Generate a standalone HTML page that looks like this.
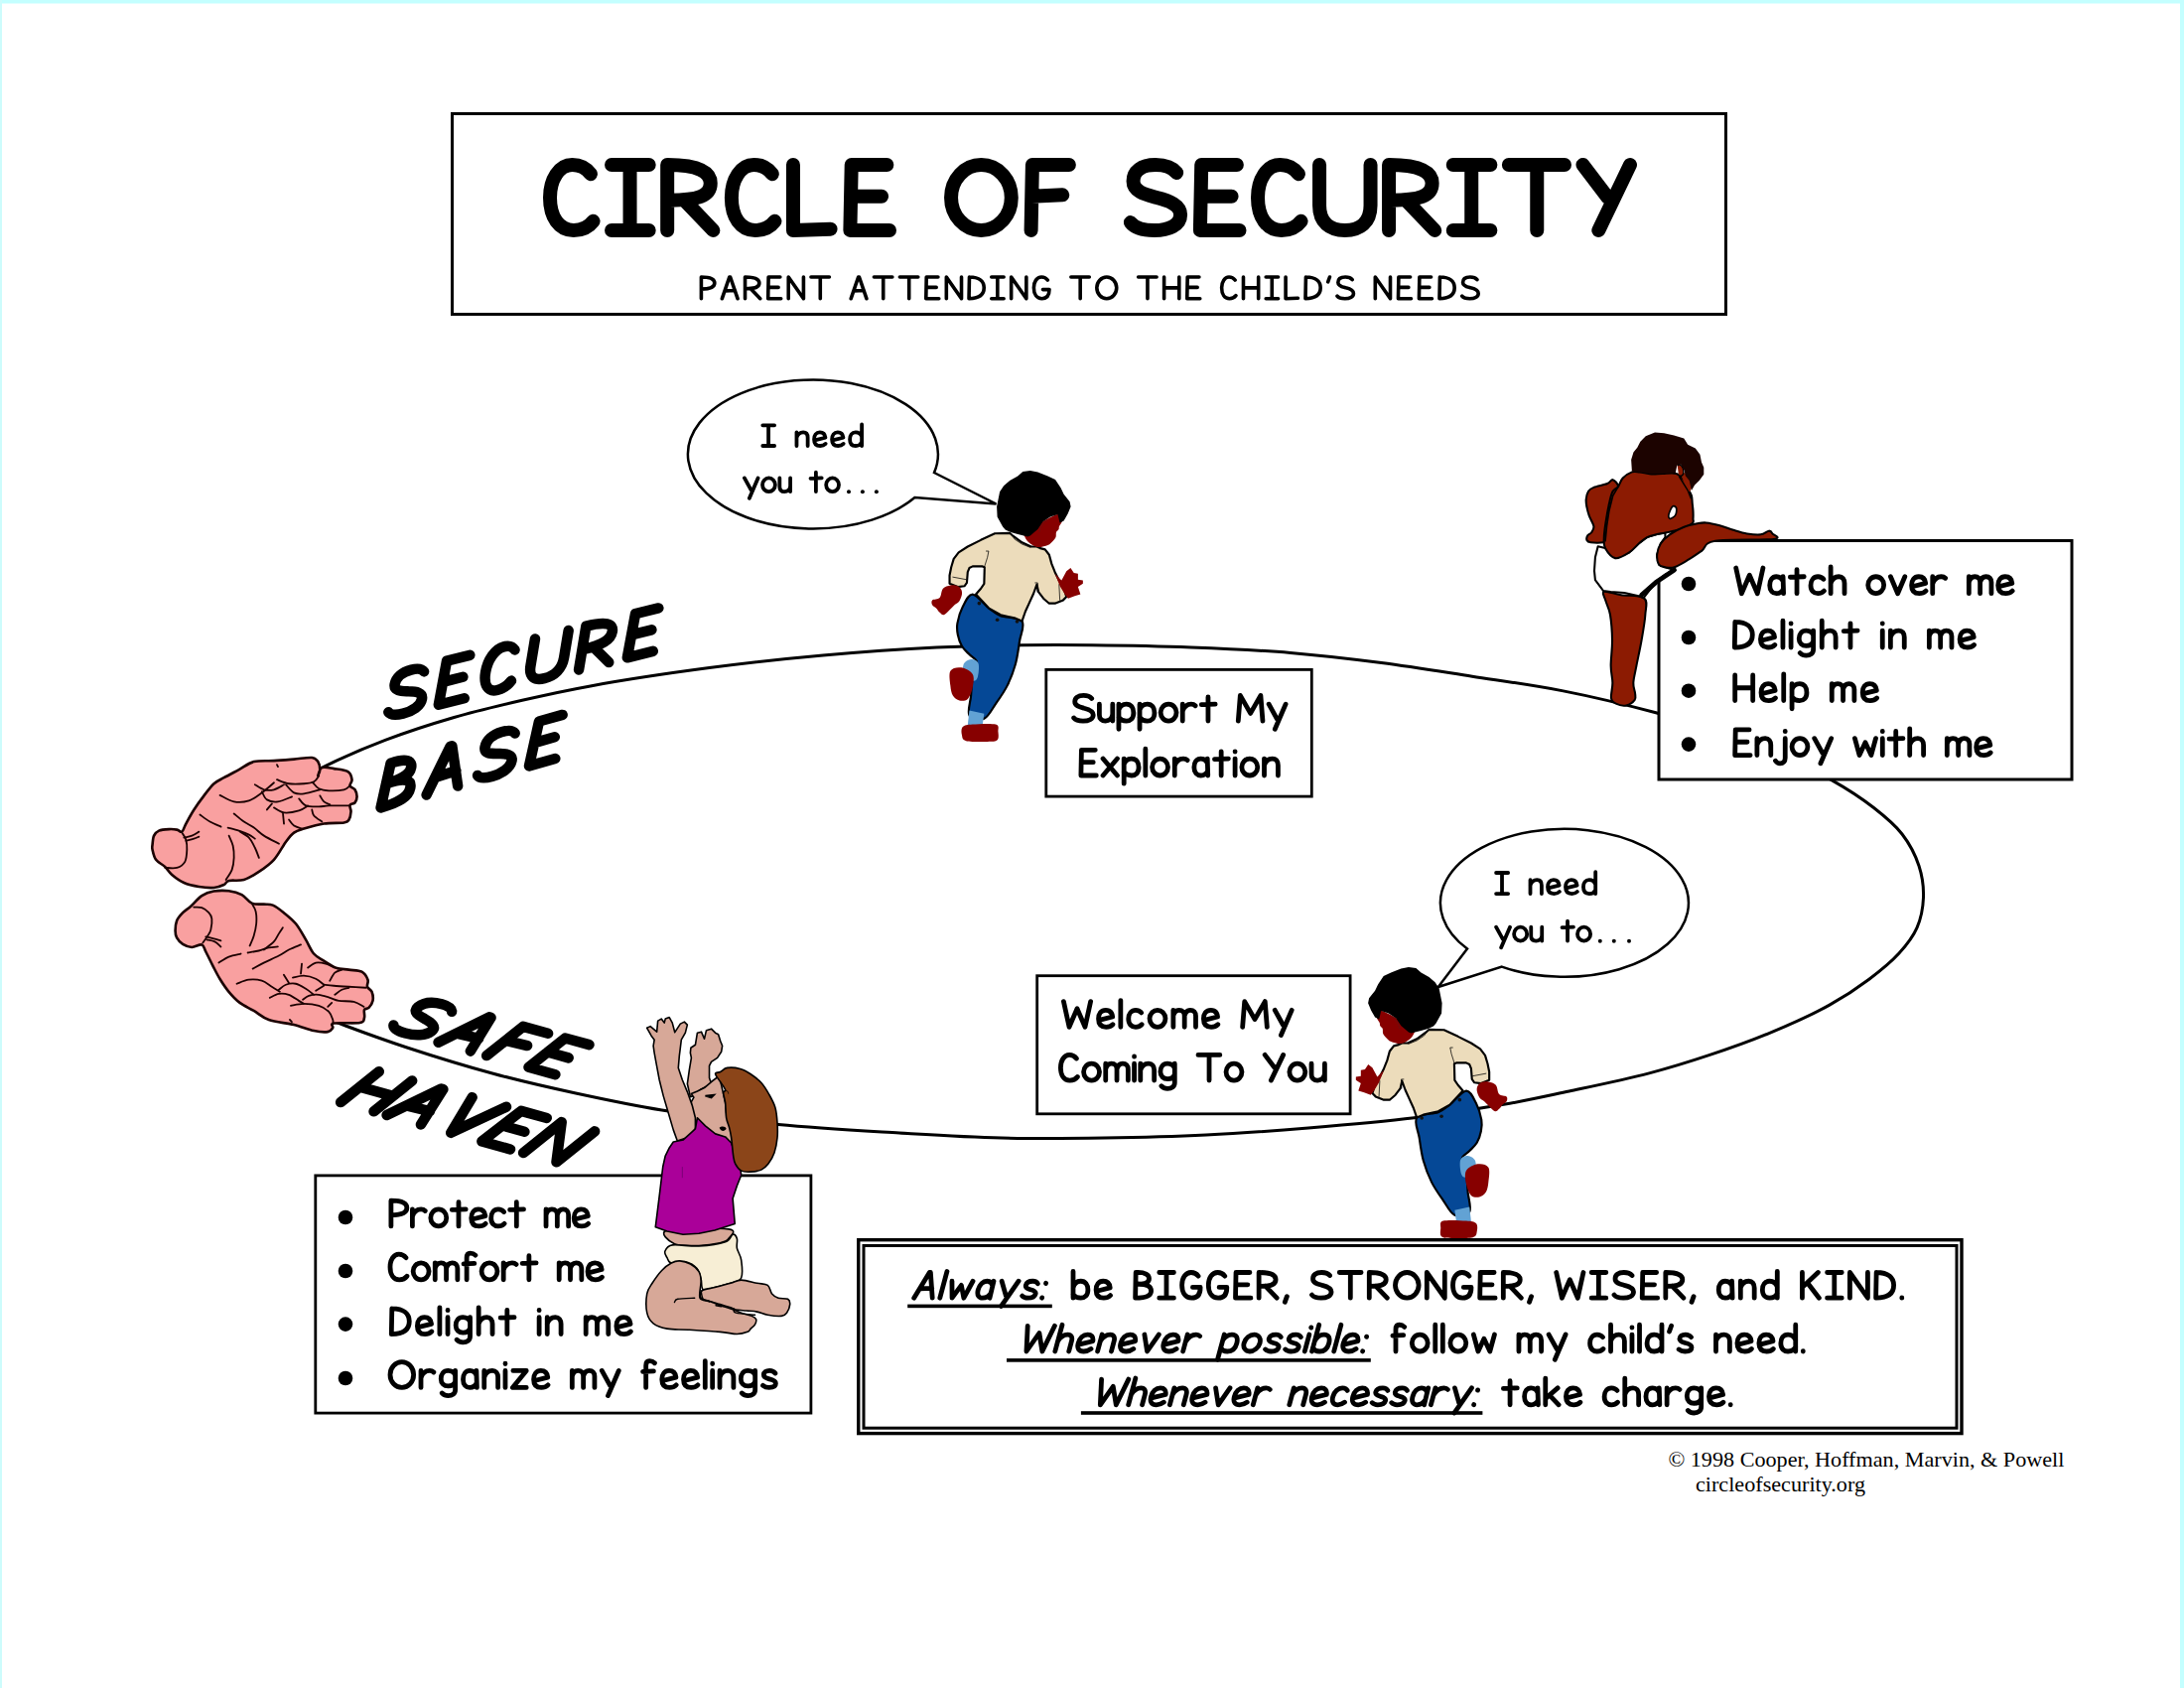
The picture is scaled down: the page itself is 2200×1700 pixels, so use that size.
<!DOCTYPE html>
<html><head><meta charset="utf-8"><title>Circle of Security</title>
<style>
html,body{margin:0;padding:0;background:#fff;}
body{width:2200px;height:1700px;overflow:hidden;position:relative;}
svg{position:absolute;left:0;top:0;display:block;}
text{font-family:"Liberation Sans",sans-serif;}
.b{font-weight:bold;}
</style></head><body>
<svg width="2200" height="1700" viewBox="0 0 2200 1700" xmlns="http://www.w3.org/2000/svg">
<rect x="0" y="0" width="2200" height="1700" fill="#fff"/>
<!-- cyan frame -->
<rect x="0" y="0" width="2200" height="3.5" fill="#c4ffff"/>
<rect x="0" y="0" width="2" height="1700" fill="#cdfcfc"/>
<rect x="2196" y="0" width="4" height="1700" fill="#c4ffff"/>

<!-- title box -->
<rect x="455.5" y="114.5" width="1283" height="202" fill="none" stroke="#000" stroke-width="3"/>

<!-- main loop -->
<path id="loop" fill="none" stroke="#000" stroke-width="3" d="M 330.0 1026.0 C 336.0 1028.3 340.2 1030.1 348.0 1033.0 C 362.4 1038.4 387.6 1047.6 410.0 1055.0 C 436.2 1063.6 467.4 1073.3 496.0 1081.0 C 524.1 1088.6 551.7 1094.9 580.0 1101.0 C 608.6 1107.2 635.5 1113.0 666.7 1118.0 C 702.8 1123.8 744.5 1128.8 784.0 1132.6 C 824.2 1136.5 867.0 1138.7 906.0 1141.0 C 941.8 1143.1 974.7 1145.2 1009.0 1146.0 C 1043.3 1146.8 1077.7 1146.5 1112.0 1146.0 C 1146.3 1145.5 1180.7 1144.7 1215.0 1143.0 C 1249.3 1141.3 1283.4 1138.8 1318.0 1136.0 C 1353.2 1133.1 1390.5 1130.0 1424.6 1125.8 C 1456.3 1121.9 1488.3 1117.0 1516.1 1112.1 C 1539.5 1108.0 1557.9 1103.8 1580.6 1099.0 C 1606.0 1093.6 1636.4 1087.4 1661.2 1080.9 C 1682.9 1075.2 1701.6 1069.4 1721.6 1062.7 C 1741.8 1056.0 1762.0 1048.9 1782.0 1040.6 C 1802.3 1032.2 1824.7 1022.3 1842.5 1012.4 C 1857.6 1004.0 1870.6 995.4 1882.8 986.2 C 1893.9 977.8 1904.7 969.2 1913.0 960.0 C 1920.4 951.8 1926.9 943.7 1931.0 934.3 C 1935.1 925.0 1937.1 914.3 1937.5 904.0 C 1937.9 893.5 1936.4 882.4 1933.0 872.0 C 1929.4 861.0 1923.4 849.6 1916.0 840.0 C 1908.3 830.0 1898.1 821.8 1887.2 813.3 C 1874.8 803.6 1861.9 795.1 1845.0 785.6 C 1821.9 772.6 1789.4 756.3 1760.0 745.0 C 1730.4 733.6 1698.9 726.0 1668.0 717.8 C 1637.1 709.6 1605.8 702.0 1574.7 695.9 C 1544.1 689.9 1513.6 685.9 1483.0 681.2 C 1452.5 676.5 1422.1 671.5 1391.6 667.5 C 1361.1 663.5 1331.2 660.0 1300.0 657.4 C 1267.4 654.7 1233.3 653.3 1200.0 652.0 C 1166.7 650.7 1130.6 650.1 1100.0 649.8 C 1074.0 649.5 1053.0 649.5 1028.0 649.8 C 1000.9 650.2 973.7 650.5 943.4 652.0 C 908.1 653.7 867.1 656.6 829.0 660.0 C 790.8 663.4 753.0 667.5 714.5 672.6 C 675.0 677.8 629.0 684.7 594.7 690.9 C 568.6 695.6 548.8 700.0 526.0 705.3 C 503.1 710.6 480.2 715.9 457.4 722.5 C 434.4 729.2 410.7 736.8 388.7 745.2 C 367.7 753.2 341.6 764.7 328.0 771.3 C 320.8 774.8 317.3 777.1 312.0 780.0"/>

<!-- FIGURES -->
<g transform="translate(930 480) scale(0.08292)"><path d="M 600.0 1430.0 C 653.3 1433.3 743.3 1556.7 800.0 1600.0 C 856.7 1643.3 873.3 1664.0 940.0 1690.0 C 1006.7 1716.0 1161.7 1704.3 1200.0 1756.0 C 1238.3 1807.7 1183.3 1912.7 1170.0 2000.0 C 1156.7 2087.3 1145.0 2190.0 1120.0 2280.0 C 1095.0 2370.0 1060.0 2460.0 1020.0 2540.0 C 980.0 2620.0 926.7 2693.3 880.0 2760.0 C 833.3 2826.7 793.3 2916.7 740.0 2940.0 C 686.7 2963.3 586.7 2946.7 560.0 2900.0 C 533.3 2853.3 573.3 2740.0 580.0 2660.0 C 586.7 2580.0 588.3 2488.3 600.0 2420.0 C 611.7 2351.7 656.7 2293.3 650.0 2250.0 C 643.3 2206.7 590.0 2191.7 560.0 2160.0 C 530.0 2128.3 493.3 2100.0 470.0 2060.0 C 446.7 2020.0 429.2 1966.7 420.0 1920.0 C 410.8 1873.3 405.0 1836.7 415.0 1780.0 C 425.0 1723.3 449.2 1638.3 480.0 1580.0 C 510.8 1521.7 546.7 1426.7 600.0 1430.0 Z" fill="#054896" stroke="#000" stroke-width="26" stroke-linejoin="round"/><path d="M 490.0 2280.0 C 503.3 2250.0 550.0 2221.7 580.0 2220.0 C 610.0 2218.3 656.7 2233.3 670.0 2270.0 C 683.3 2306.7 671.7 2405.0 660.0 2440.0 C 648.3 2475.0 626.7 2486.7 600.0 2480.0 C 573.3 2473.3 518.3 2433.3 500.0 2400.0 C 481.7 2366.7 476.7 2310.0 490.0 2280.0 Z" fill="#62a2d4"/><path d="M 330.0 2360.0 C 351.7 2323.3 415.0 2313.3 460.0 2320.0 C 505.0 2326.7 576.7 2360.0 600.0 2400.0 C 623.3 2440.0 610.0 2510.0 600.0 2560.0 C 590.0 2610.0 566.7 2673.3 540.0 2700.0 C 513.3 2726.7 470.0 2726.7 440.0 2720.0 C 410.0 2713.3 378.3 2690.0 360.0 2660.0 C 341.7 2630.0 335.0 2590.0 330.0 2540.0 C 325.0 2490.0 308.3 2396.7 330.0 2360.0 Z" fill="#870000"/><path d="M 560.0 2840.0 L 740.0 2880.0 L 720.0 3020.0 L 540.0 3020.0 Z" fill="#62a2d4"/><path d="M 480.0 3040.0 C 501.7 3018.3 533.3 3015.0 600.0 3010.0 C 666.7 3005.0 828.3 2995.0 880.0 3010.0 C 931.7 3025.0 906.7 3068.3 910.0 3100.0 C 913.3 3131.7 921.7 3180.0 900.0 3200.0 C 878.3 3220.0 843.3 3218.3 780.0 3220.0 C 716.7 3221.7 571.7 3223.3 520.0 3210.0 C 468.3 3196.7 476.7 3168.3 470.0 3140.0 C 463.3 3111.7 458.3 3061.7 480.0 3040.0 Z" fill="#870000"/><circle cx="680" cy="1540" r="22" fill="#111"/><circle cx="900" cy="1740" r="22" fill="#111"/><circle cx="1140" cy="1760" r="22" fill="#111"/><path d="M 870.0 690.0 L 1050.0 685.0 L 1090.0 720.0 L 1200.0 800.0 L 1310.0 850.0 L 1380.0 850.0 L 1420.0 870.0 L 1480.0 885.0 L 1530.0 950.0 L 1560.0 1060.0 L 1600.0 1160.0 L 1650.0 1260.0 L 1700.0 1330.0 L 1740.0 1460.0 L 1700.0 1500.0 L 1600.0 1540.0 L 1530.0 1540.0 L 1460.0 1480.0 L 1400.0 1400.0 L 1380.0 1310.0 L 1340.0 1420.0 L 1290.0 1530.0 L 1240.0 1640.0 L 1200.0 1756.0 L 1120.0 1720.0 L 940.0 1680.0 L 800.0 1600.0 L 640.0 1430.0 L 700.0 1360.0 L 740.0 1300.0 L 745.0 1100.0 L 720.0 1090.0 L 600.0 1090.0 L 560.0 1110.0 L 540.0 1160.0 L 530.0 1290.0 L 500.0 1330.0 L 420.0 1340.0 L 320.0 1300.0 L 320.0 1200.0 L 340.0 1100.0 L 370.0 1000.0 L 430.0 920.0 L 540.0 850.0 L 700.0 770.0 Z" fill="#ecdcbb" stroke="#000" stroke-width="26" stroke-linejoin="round"/><path d="M 360 1220 L 520 1250" fill="none" stroke="#000" stroke-width="9" stroke-linecap="round"/><path d="M 765 905 L 795 905 L 780 980 L 745 1090" fill="none" stroke="#000" stroke-width="9" stroke-linecap="round"/><path d="M 1360 1290 L 1390 1290 L 1385 1400" fill="none" stroke="#000" stroke-width="9" stroke-linecap="round"/><path d="M 1650 1310 L 1660 1500" fill="none" stroke="#000" stroke-width="9" stroke-linecap="round"/><path d="M 1070 700 L 1110 760 L 1200 820 L 1300 860" fill="none" stroke="#000" stroke-width="9" stroke-linecap="round"/><path d="M 110.0 1500.0 C 125.0 1485.0 178.3 1493.3 200.0 1470.0 C 221.7 1446.7 218.3 1385.0 240.0 1360.0 C 261.7 1335.0 300.0 1325.0 330.0 1320.0 C 360.0 1315.0 398.3 1321.7 420.0 1330.0 C 441.7 1338.3 451.7 1353.3 460.0 1370.0 C 468.3 1386.7 473.3 1406.7 470.0 1430.0 C 466.7 1453.3 455.0 1488.3 440.0 1510.0 C 425.0 1531.7 400.0 1541.7 380.0 1560.0 C 360.0 1578.3 341.7 1600.0 320.0 1620.0 C 298.3 1640.0 270.0 1675.0 250.0 1680.0 C 230.0 1685.0 215.0 1663.3 200.0 1650.0 C 185.0 1636.7 175.0 1615.0 160.0 1600.0 C 145.0 1585.0 118.3 1576.7 110.0 1560.0 C 101.7 1543.3 95.0 1515.0 110.0 1500.0 Z" fill="#870000"/><path d="M 1600.0 1180.0 L 1680.0 1260.0 L 1740.0 1150.0 L 1790.0 1110.0 L 1830.0 1170.0 L 1880.0 1180.0 L 1880.0 1250.0 L 1940.0 1260.0 L 1940.0 1300.0 L 1880.0 1340.0 L 1910.0 1430.0 L 1840.0 1450.0 L 1760.0 1480.0 L 1720.0 1430.0 L 1660.0 1330.0 Z" fill="#870000"/></g><path d="M 1030.0 534.0 C 1032.2 532.0 1040.3 530.2 1045.0 528.0 C 1049.7 525.8 1054.5 522.7 1058.0 521.0 C 1061.5 519.3 1064.0 517.5 1066.0 518.0 C 1068.0 518.5 1069.8 522.0 1070.0 524.0 C 1070.2 526.0 1067.6 528.5 1067.0 530.0 C 1066.4 531.5 1067.0 532.0 1066.5 533.0 C 1066.0 534.0 1064.5 534.7 1064.0 536.0 C 1063.5 537.3 1064.1 539.5 1063.5 541.0 C 1062.9 542.5 1061.8 543.7 1060.5 545.0 C 1059.2 546.3 1058.1 548.0 1055.5 549.0 C 1052.9 550.0 1048.2 551.5 1045.0 551.0 C 1041.8 550.5 1038.2 547.8 1036.0 546.0 C 1033.8 544.2 1033.0 542.0 1032.0 540.0 C 1031.0 538.0 1027.8 536.0 1030.0 534.0 Z" fill="#870000"/><path d="M 1007.1 495.2 L 1011.1 489.2 L 1017.2 484.1 L 1025.2 479.6 L 1030.3 475.1 L 1037.8 474.1 L 1045.4 475.6 L 1055.5 479.6 L 1063.0 483.1 L 1068.5 491.2 L 1071.6 497.7 L 1077.6 505.3 L 1078.6 510.3 L 1075.6 517.4 L 1071.6 524.4 L 1067.5 526.4 L 1065.5 517.9 L 1058.0 520.4 L 1050.4 525.4 L 1045.4 533.0 L 1037.8 539.5 L 1035.3 540.5 L 1025.2 538.0 L 1018.2 536.0 L 1012.7 533.5 L 1010.1 530.5 L 1004.6 520.4 L 1004.1 510.3 Z" fill="#000"/><path d="M 1047 536 C 1048 530 1051 526 1055 524" fill="none" stroke="#6a1010" stroke-width="0.8"/>
<g transform="translate(2456.7 500) scale(-1 1)"><g transform="translate(930 480) scale(0.08292)"><path d="M 600.0 1430.0 C 653.3 1433.3 743.3 1556.7 800.0 1600.0 C 856.7 1643.3 873.3 1664.0 940.0 1690.0 C 1006.7 1716.0 1161.7 1704.3 1200.0 1756.0 C 1238.3 1807.7 1183.3 1912.7 1170.0 2000.0 C 1156.7 2087.3 1145.0 2190.0 1120.0 2280.0 C 1095.0 2370.0 1060.0 2460.0 1020.0 2540.0 C 980.0 2620.0 926.7 2693.3 880.0 2760.0 C 833.3 2826.7 793.3 2916.7 740.0 2940.0 C 686.7 2963.3 586.7 2946.7 560.0 2900.0 C 533.3 2853.3 573.3 2740.0 580.0 2660.0 C 586.7 2580.0 588.3 2488.3 600.0 2420.0 C 611.7 2351.7 656.7 2293.3 650.0 2250.0 C 643.3 2206.7 590.0 2191.7 560.0 2160.0 C 530.0 2128.3 493.3 2100.0 470.0 2060.0 C 446.7 2020.0 429.2 1966.7 420.0 1920.0 C 410.8 1873.3 405.0 1836.7 415.0 1780.0 C 425.0 1723.3 449.2 1638.3 480.0 1580.0 C 510.8 1521.7 546.7 1426.7 600.0 1430.0 Z" fill="#054896" stroke="#000" stroke-width="26" stroke-linejoin="round"/><path d="M 490.0 2280.0 C 503.3 2250.0 550.0 2221.7 580.0 2220.0 C 610.0 2218.3 656.7 2233.3 670.0 2270.0 C 683.3 2306.7 671.7 2405.0 660.0 2440.0 C 648.3 2475.0 626.7 2486.7 600.0 2480.0 C 573.3 2473.3 518.3 2433.3 500.0 2400.0 C 481.7 2366.7 476.7 2310.0 490.0 2280.0 Z" fill="#62a2d4"/><path d="M 330.0 2360.0 C 351.7 2323.3 415.0 2313.3 460.0 2320.0 C 505.0 2326.7 576.7 2360.0 600.0 2400.0 C 623.3 2440.0 610.0 2510.0 600.0 2560.0 C 590.0 2610.0 566.7 2673.3 540.0 2700.0 C 513.3 2726.7 470.0 2726.7 440.0 2720.0 C 410.0 2713.3 378.3 2690.0 360.0 2660.0 C 341.7 2630.0 335.0 2590.0 330.0 2540.0 C 325.0 2490.0 308.3 2396.7 330.0 2360.0 Z" fill="#870000"/><path d="M 560.0 2840.0 L 740.0 2880.0 L 720.0 3020.0 L 540.0 3020.0 Z" fill="#62a2d4"/><path d="M 480.0 3040.0 C 501.7 3018.3 533.3 3015.0 600.0 3010.0 C 666.7 3005.0 828.3 2995.0 880.0 3010.0 C 931.7 3025.0 906.7 3068.3 910.0 3100.0 C 913.3 3131.7 921.7 3180.0 900.0 3200.0 C 878.3 3220.0 843.3 3218.3 780.0 3220.0 C 716.7 3221.7 571.7 3223.3 520.0 3210.0 C 468.3 3196.7 476.7 3168.3 470.0 3140.0 C 463.3 3111.7 458.3 3061.7 480.0 3040.0 Z" fill="#870000"/><circle cx="680" cy="1540" r="22" fill="#111"/><circle cx="900" cy="1740" r="22" fill="#111"/><circle cx="1140" cy="1760" r="22" fill="#111"/><path d="M 870.0 690.0 L 1050.0 685.0 L 1090.0 720.0 L 1200.0 800.0 L 1310.0 850.0 L 1380.0 850.0 L 1420.0 870.0 L 1480.0 885.0 L 1530.0 950.0 L 1560.0 1060.0 L 1600.0 1160.0 L 1650.0 1260.0 L 1700.0 1330.0 L 1740.0 1460.0 L 1700.0 1500.0 L 1600.0 1540.0 L 1530.0 1540.0 L 1460.0 1480.0 L 1400.0 1400.0 L 1380.0 1310.0 L 1340.0 1420.0 L 1290.0 1530.0 L 1240.0 1640.0 L 1200.0 1756.0 L 1120.0 1720.0 L 940.0 1680.0 L 800.0 1600.0 L 640.0 1430.0 L 700.0 1360.0 L 740.0 1300.0 L 745.0 1100.0 L 720.0 1090.0 L 600.0 1090.0 L 560.0 1110.0 L 540.0 1160.0 L 530.0 1290.0 L 500.0 1330.0 L 420.0 1340.0 L 320.0 1300.0 L 320.0 1200.0 L 340.0 1100.0 L 370.0 1000.0 L 430.0 920.0 L 540.0 850.0 L 700.0 770.0 Z" fill="#ecdcbb" stroke="#000" stroke-width="26" stroke-linejoin="round"/><path d="M 360 1220 L 520 1250" fill="none" stroke="#000" stroke-width="9" stroke-linecap="round"/><path d="M 765 905 L 795 905 L 780 980 L 745 1090" fill="none" stroke="#000" stroke-width="9" stroke-linecap="round"/><path d="M 1360 1290 L 1390 1290 L 1385 1400" fill="none" stroke="#000" stroke-width="9" stroke-linecap="round"/><path d="M 1650 1310 L 1660 1500" fill="none" stroke="#000" stroke-width="9" stroke-linecap="round"/><path d="M 1070 700 L 1110 760 L 1200 820 L 1300 860" fill="none" stroke="#000" stroke-width="9" stroke-linecap="round"/><path d="M 110.0 1500.0 C 125.0 1485.0 178.3 1493.3 200.0 1470.0 C 221.7 1446.7 218.3 1385.0 240.0 1360.0 C 261.7 1335.0 300.0 1325.0 330.0 1320.0 C 360.0 1315.0 398.3 1321.7 420.0 1330.0 C 441.7 1338.3 451.7 1353.3 460.0 1370.0 C 468.3 1386.7 473.3 1406.7 470.0 1430.0 C 466.7 1453.3 455.0 1488.3 440.0 1510.0 C 425.0 1531.7 400.0 1541.7 380.0 1560.0 C 360.0 1578.3 341.7 1600.0 320.0 1620.0 C 298.3 1640.0 270.0 1675.0 250.0 1680.0 C 230.0 1685.0 215.0 1663.3 200.0 1650.0 C 185.0 1636.7 175.0 1615.0 160.0 1600.0 C 145.0 1585.0 118.3 1576.7 110.0 1560.0 C 101.7 1543.3 95.0 1515.0 110.0 1500.0 Z" fill="#870000"/><path d="M 1600.0 1180.0 L 1680.0 1260.0 L 1740.0 1150.0 L 1790.0 1110.0 L 1830.0 1170.0 L 1880.0 1180.0 L 1880.0 1250.0 L 1940.0 1260.0 L 1940.0 1300.0 L 1880.0 1340.0 L 1910.0 1430.0 L 1840.0 1450.0 L 1760.0 1480.0 L 1720.0 1430.0 L 1660.0 1330.0 Z" fill="#870000"/></g><path d="M 1030.0 534.0 C 1032.2 532.0 1040.3 530.2 1045.0 528.0 C 1049.7 525.8 1054.5 522.7 1058.0 521.0 C 1061.5 519.3 1064.0 517.5 1066.0 518.0 C 1068.0 518.5 1069.8 522.0 1070.0 524.0 C 1070.2 526.0 1067.6 528.5 1067.0 530.0 C 1066.4 531.5 1067.0 532.0 1066.5 533.0 C 1066.0 534.0 1064.5 534.7 1064.0 536.0 C 1063.5 537.3 1064.1 539.5 1063.5 541.0 C 1062.9 542.5 1061.8 543.7 1060.5 545.0 C 1059.2 546.3 1058.1 548.0 1055.5 549.0 C 1052.9 550.0 1048.2 551.5 1045.0 551.0 C 1041.8 550.5 1038.2 547.8 1036.0 546.0 C 1033.8 544.2 1033.0 542.0 1032.0 540.0 C 1031.0 538.0 1027.8 536.0 1030.0 534.0 Z" fill="#870000"/><path d="M 1007.1 495.2 L 1011.1 489.2 L 1017.2 484.1 L 1025.2 479.6 L 1030.3 475.1 L 1037.8 474.1 L 1045.4 475.6 L 1055.5 479.6 L 1063.0 483.1 L 1068.5 491.2 L 1071.6 497.7 L 1077.6 505.3 L 1078.6 510.3 L 1075.6 517.4 L 1071.6 524.4 L 1067.5 526.4 L 1065.5 517.9 L 1058.0 520.4 L 1050.4 525.4 L 1045.4 533.0 L 1037.8 539.5 L 1035.3 540.5 L 1025.2 538.0 L 1018.2 536.0 L 1012.7 533.5 L 1010.1 530.5 L 1004.6 520.4 L 1004.1 510.3 Z" fill="#000"/><path d="M 1047 536 C 1048 530 1051 526 1055 524" fill="none" stroke="#6a1010" stroke-width="0.8"/></g>
<g transform="translate(145 755) scale(0.10074)"><path d="M 85.0 950.0 C 87.5 926.7 89.2 883.3 100.0 860.0 C 110.8 836.7 125.0 820.8 150.0 810.0 C 175.0 799.2 220.0 796.7 250.0 795.0 C 280.0 793.3 308.3 795.8 330.0 800.0 C 351.7 804.2 365.0 830.0 380.0 820.0 C 395.0 810.0 400.0 776.7 420.0 740.0 C 440.0 703.3 470.0 646.7 500.0 600.0 C 530.0 553.3 566.7 503.3 600.0 460.0 C 633.3 416.7 666.7 370.0 700.0 340.0 C 733.3 310.0 758.3 303.3 800.0 280.0 C 841.7 256.7 900.0 226.7 950.0 200.0 C 1000.0 173.3 1041.7 135.0 1100.0 120.0 C 1158.3 105.0 1233.3 114.2 1300.0 110.0 C 1366.7 105.8 1436.7 100.0 1500.0 95.0 C 1563.3 90.0 1640.0 75.8 1680.0 80.0 C 1720.0 84.2 1726.7 100.0 1740.0 120.0 C 1753.3 140.0 1760.0 176.7 1760.0 200.0 C 1760.0 223.3 1736.7 263.3 1740.0 260.0 C 1743.3 256.7 1753.3 191.7 1780.0 180.0 C 1806.7 168.3 1856.7 183.3 1900.0 190.0 C 1943.3 196.7 2010.0 201.7 2040.0 220.0 C 2070.0 238.3 2076.7 276.7 2080.0 300.0 C 2083.3 323.3 2055.0 343.3 2060.0 360.0 C 2065.0 376.7 2098.3 381.7 2110.0 400.0 C 2121.7 418.3 2130.0 448.3 2130.0 470.0 C 2130.0 491.7 2121.7 515.8 2110.0 530.0 C 2098.3 544.2 2066.7 540.0 2060.0 555.0 C 2053.3 570.0 2071.7 595.8 2070.0 620.0 C 2068.3 644.2 2061.7 681.7 2050.0 700.0 C 2038.3 718.3 2041.7 723.3 2000.0 730.0 C 1958.3 736.7 1866.7 730.0 1800.0 740.0 C 1733.3 750.0 1650.0 775.0 1600.0 790.0 C 1550.0 805.0 1530.0 808.3 1500.0 830.0 C 1470.0 851.7 1453.3 875.0 1420.0 920.0 C 1386.7 965.0 1345.0 1050.0 1300.0 1100.0 C 1255.0 1150.0 1200.0 1186.7 1150.0 1220.0 C 1100.0 1253.3 1050.0 1285.0 1000.0 1300.0 C 950.0 1315.0 883.3 1301.7 850.0 1310.0 C 816.7 1318.3 825.0 1338.3 800.0 1350.0 C 775.0 1361.7 741.7 1376.7 700.0 1380.0 C 658.3 1383.3 600.0 1378.3 550.0 1370.0 C 500.0 1361.7 445.0 1350.0 400.0 1330.0 C 355.0 1310.0 311.7 1276.7 280.0 1250.0 C 248.3 1223.3 236.7 1195.0 210.0 1170.0 C 183.3 1145.0 140.8 1128.3 120.0 1100.0 C 99.2 1071.7 90.8 1025.0 85.0 1000.0 C 79.2 975.0 82.5 973.3 85.0 950.0 Z" fill="#f9a0a0" stroke="#1c0000" stroke-width="26" stroke-linejoin="round"/><path d="M 210.0 1180.0 C 230.0 1180.0 296.7 1190.0 330.0 1180.0 C 363.3 1170.0 393.3 1150.0 410.0 1120.0 C 426.7 1090.0 428.3 1036.7 430.0 1000.0 C 431.7 963.3 428.3 928.3 420.0 900.0 C 411.7 871.7 386.7 841.7 380.0 830.0" fill="none" stroke="#1c0000" stroke-width="18" stroke-linecap="round" stroke-linejoin="round"/><path d="M 1330.0 300.0 C 1350.0 306.7 1405.0 333.3 1450.0 340.0 C 1495.0 346.7 1558.3 343.3 1600.0 340.0 C 1641.7 336.7 1675.0 333.3 1700.0 320.0 C 1725.0 306.7 1741.7 270.0 1750.0 260.0" fill="none" stroke="#1c0000" stroke-width="18" stroke-linecap="round" stroke-linejoin="round"/><path d="M 760.0 455.0 C 783.3 465.8 851.7 510.8 900.0 520.0 C 948.3 529.2 1003.3 525.0 1050.0 510.0 C 1096.7 495.0 1138.3 460.0 1180.0 430.0 C 1221.7 400.0 1280.0 346.7 1300.0 330.0" fill="none" stroke="#1c0000" stroke-width="18" stroke-linecap="round" stroke-linejoin="round"/><path d="M 1110.0 350.0 C 1125.0 358.3 1168.3 391.7 1200.0 400.0 C 1231.7 408.3 1266.7 408.3 1300.0 400.0 C 1333.3 391.7 1383.3 358.3 1400.0 350.0" fill="none" stroke="#1c0000" stroke-width="18" stroke-linecap="round" stroke-linejoin="round"/><path d="M 1690.0 330.0 C 1700.0 340.0 1723.3 376.7 1750.0 390.0 C 1776.7 403.3 1808.3 408.3 1850.0 410.0 C 1891.7 411.7 1965.0 408.3 2000.0 400.0 C 2035.0 391.7 2050.0 366.7 2060.0 360.0" fill="none" stroke="#1c0000" stroke-width="18" stroke-linecap="round" stroke-linejoin="round"/><path d="M 1180.0 420.0 C 1188.3 433.3 1203.3 483.3 1230.0 500.0 C 1256.7 516.7 1298.3 525.0 1340.0 520.0 C 1381.7 515.0 1456.7 478.3 1480.0 470.0" fill="none" stroke="#1c0000" stroke-width="18" stroke-linecap="round" stroke-linejoin="round"/><path d="M 1420.0 350.0 C 1433.3 363.3 1470.0 415.0 1500.0 430.0 C 1530.0 445.0 1556.7 445.0 1600.0 440.0 C 1643.3 435.0 1733.3 406.7 1760.0 400.0" fill="none" stroke="#1c0000" stroke-width="18" stroke-linecap="round" stroke-linejoin="round"/><path d="M 1550.0 490.0 C 1561.7 501.7 1586.7 546.7 1620.0 560.0 C 1653.3 573.3 1711.7 570.0 1750.0 570.0 C 1788.3 570.0 1798.3 561.7 1850.0 560.0 C 1901.7 558.3 2025.0 560.0 2060.0 560.0" fill="none" stroke="#1c0000" stroke-width="18" stroke-linecap="round" stroke-linejoin="round"/><path d="M 1760.0 460.0 C 1766.7 470.0 1783.3 505.0 1800.0 520.0 C 1816.7 535.0 1850.0 545.0 1860.0 550.0" fill="none" stroke="#1c0000" stroke-width="18" stroke-linecap="round" stroke-linejoin="round"/><path d="M 1300.0 580.0 C 1316.7 588.3 1358.3 625.0 1400.0 630.0 C 1441.7 635.0 1510.0 621.7 1550.0 610.0 C 1590.0 598.3 1625.0 568.3 1640.0 560.0" fill="none" stroke="#1c0000" stroke-width="18" stroke-linecap="round" stroke-linejoin="round"/><path d="M 1680.0 600.0 C 1683.3 610.0 1683.3 640.0 1700.0 660.0 C 1716.7 680.0 1766.7 710.0 1780.0 720.0" fill="none" stroke="#1c0000" stroke-width="18" stroke-linecap="round" stroke-linejoin="round"/><path d="M 1450.0 700.0 C 1458.3 710.0 1478.3 745.0 1500.0 760.0 C 1521.7 775.0 1566.7 785.0 1580.0 790.0" fill="none" stroke="#1c0000" stroke-width="18" stroke-linecap="round" stroke-linejoin="round"/><path d="M 1390.0 640.0 L 1400.0 740.0" fill="none" stroke="#1c0000" stroke-width="18" stroke-linecap="round" stroke-linejoin="round"/><path d="M 1280.0 540.0 L 1230.0 600.0" fill="none" stroke="#1c0000" stroke-width="18" stroke-linecap="round" stroke-linejoin="round"/><path d="M 560.0 650.0 C 576.7 661.7 625.0 700.0 660.0 720.0 C 695.0 740.0 751.7 761.7 770.0 770.0" fill="none" stroke="#1c0000" stroke-width="18" stroke-linecap="round" stroke-linejoin="round"/><path d="M 900.0 640.0 C 916.7 653.3 966.7 696.7 1000.0 720.0 C 1033.3 743.3 1066.7 756.7 1100.0 780.0 C 1133.3 803.3 1158.3 833.3 1200.0 860.0 C 1241.7 886.7 1325.0 926.7 1350.0 940.0" fill="none" stroke="#1c0000" stroke-width="18" stroke-linecap="round" stroke-linejoin="round"/><path d="M 840.0 780.0 C 858.3 785.0 915.0 798.3 950.0 810.0 C 985.0 821.7 1023.3 836.7 1050.0 850.0 C 1076.7 863.3 1100.0 883.3 1110.0 890.0" fill="none" stroke="#1c0000" stroke-width="18" stroke-linecap="round" stroke-linejoin="round"/><path d="M 850.0 860.0 C 856.7 876.7 881.7 923.3 890.0 960.0 C 898.3 996.7 901.7 1040.0 900.0 1080.0 C 898.3 1120.0 893.3 1163.3 880.0 1200.0 C 866.7 1236.7 830.0 1283.3 820.0 1300.0" fill="none" stroke="#1c0000" stroke-width="18" stroke-linecap="round" stroke-linejoin="round"/><path d="M 960.0 820.0 C 975.0 830.0 1025.0 853.3 1050.0 880.0 C 1075.0 906.7 1093.3 946.7 1110.0 980.0 C 1126.7 1013.3 1143.3 1063.3 1150.0 1080.0" fill="none" stroke="#1c0000" stroke-width="18" stroke-linecap="round" stroke-linejoin="round"/><path d="M 400.0 880.0 C 413.3 876.7 455.0 870.0 480.0 860.0 C 505.0 850.0 538.3 826.7 550.0 820.0" fill="none" stroke="#1c0000" stroke-width="18" stroke-linecap="round" stroke-linejoin="round"/><path d="M 420.0 910.0 C 433.3 906.7 478.3 896.7 500.0 890.0 C 521.7 883.3 541.7 873.3 550.0 870.0" fill="none" stroke="#1c0000" stroke-width="18" stroke-linecap="round" stroke-linejoin="round"/><path d="M 1330.0 150.0 L 1340.0 170.0" fill="none" stroke="#1c0000" stroke-width="18" stroke-linecap="round" stroke-linejoin="round"/></g><g transform="translate(165 890) scale(0.10074)"><path d="M 115.0 470.0 C 115.0 441.7 117.5 400.0 130.0 370.0 C 142.5 340.0 166.7 314.2 190.0 290.0 C 213.3 265.8 238.3 253.3 270.0 225.0 C 301.7 196.7 341.7 145.0 380.0 120.0 C 418.3 95.0 455.0 83.0 500.0 75.0 C 545.0 67.0 603.3 66.2 650.0 72.0 C 696.7 77.8 741.7 89.5 780.0 110.0 C 818.3 130.5 843.3 179.2 880.0 195.0 C 916.7 210.8 965.0 201.7 1000.0 205.0 C 1035.0 208.3 1056.7 200.8 1090.0 215.0 C 1123.3 229.2 1161.7 259.2 1200.0 290.0 C 1238.3 320.8 1283.3 355.0 1320.0 400.0 C 1356.7 445.0 1390.0 510.0 1420.0 560.0 C 1450.0 610.0 1470.0 665.0 1500.0 700.0 C 1530.0 735.0 1563.3 746.7 1600.0 770.0 C 1636.7 793.3 1678.3 825.0 1720.0 840.0 C 1761.7 855.0 1806.7 853.3 1850.0 860.0 C 1893.3 866.7 1948.3 863.3 1980.0 880.0 C 2011.7 896.7 2030.8 935.0 2040.0 960.0 C 2049.2 985.0 2028.3 1010.0 2035.0 1030.0 C 2041.7 1050.0 2070.8 1056.7 2080.0 1080.0 C 2089.2 1103.3 2095.0 1143.3 2090.0 1170.0 C 2085.0 1196.7 2064.2 1225.0 2050.0 1240.0 C 2035.8 1255.0 2012.5 1243.3 2005.0 1260.0 C 1997.5 1276.7 2012.5 1318.3 2005.0 1340.0 C 1997.5 1361.7 2010.8 1380.8 1960.0 1390.0 C 1909.2 1399.2 1745.0 1386.7 1700.0 1395.0 C 1655.0 1403.3 1700.0 1425.8 1690.0 1440.0 C 1680.0 1454.2 1671.7 1475.0 1640.0 1480.0 C 1608.3 1485.0 1556.7 1481.7 1500.0 1470.0 C 1443.3 1458.3 1375.0 1428.3 1300.0 1410.0 C 1225.0 1391.7 1116.7 1383.3 1050.0 1360.0 C 983.3 1336.7 948.3 1298.3 900.0 1270.0 C 851.7 1241.7 801.7 1221.7 760.0 1190.0 C 718.3 1158.3 683.3 1120.0 650.0 1080.0 C 616.7 1040.0 586.7 993.3 560.0 950.0 C 533.3 906.7 513.3 865.0 490.0 820.0 C 466.7 775.0 438.3 715.0 420.0 680.0 C 401.7 645.0 403.3 617.5 380.0 610.0 C 356.7 602.5 311.7 635.8 280.0 635.0 C 248.3 634.2 215.0 620.8 190.0 605.0 C 165.0 589.2 142.5 562.5 130.0 540.0 C 117.5 517.5 115.0 498.3 115.0 470.0 Z" fill="#f9a0a0" stroke="#1c0000" stroke-width="26" stroke-linejoin="round"/><path d="M 300.0 235.0 C 313.3 235.8 355.0 230.8 380.0 240.0 C 405.0 249.2 433.3 271.7 450.0 290.0 C 466.7 308.3 476.7 321.7 480.0 350.0 C 483.3 378.3 476.7 431.7 470.0 460.0 C 463.3 488.3 453.3 498.3 440.0 520.0 C 426.7 541.7 398.3 578.3 390.0 590.0" fill="none" stroke="#1c0000" stroke-width="18" stroke-linecap="round" stroke-linejoin="round"/><path d="M 880.0 195.0 C 886.7 209.2 912.5 245.8 920.0 280.0 C 927.5 314.2 928.3 360.0 925.0 400.0 C 921.7 440.0 910.8 483.3 900.0 520.0 C 889.2 556.7 866.7 603.3 860.0 620.0" fill="none" stroke="#1c0000" stroke-width="18" stroke-linecap="round" stroke-linejoin="round"/><path d="M 420.0 530.0 C 433.3 533.3 475.0 543.3 500.0 550.0 C 525.0 556.7 558.3 566.7 570.0 570.0" fill="none" stroke="#1c0000" stroke-width="18" stroke-linecap="round" stroke-linejoin="round"/><path d="M 430.0 560.0 C 443.3 563.3 486.7 568.3 510.0 580.0 C 533.3 591.7 560.0 621.7 570.0 630.0" fill="none" stroke="#1c0000" stroke-width="18" stroke-linecap="round" stroke-linejoin="round"/><path d="M 550.0 790.0 C 566.7 780.0 613.3 745.0 650.0 730.0 C 686.7 715.0 750.0 705.0 770.0 700.0" fill="none" stroke="#1c0000" stroke-width="18" stroke-linecap="round" stroke-linejoin="round"/><path d="M 840.0 690.0 C 858.3 686.7 915.0 678.3 950.0 670.0 C 985.0 661.7 1018.3 646.7 1050.0 640.0 C 1081.7 633.3 1125.0 631.7 1140.0 630.0" fill="none" stroke="#1c0000" stroke-width="18" stroke-linecap="round" stroke-linejoin="round"/><path d="M 1000.0 660.0 C 1016.7 646.7 1075.0 606.7 1100.0 580.0 C 1125.0 553.3 1135.0 523.3 1150.0 500.0 C 1165.0 476.7 1183.3 450.0 1190.0 440.0" fill="none" stroke="#1c0000" stroke-width="18" stroke-linecap="round" stroke-linejoin="round"/><path d="M 890.0 850.0 C 908.3 840.0 956.7 811.7 1000.0 790.0 C 1043.3 768.3 1108.3 741.7 1150.0 720.0 C 1191.7 698.3 1213.3 678.3 1250.0 660.0 C 1286.7 641.7 1350.0 618.3 1370.0 610.0" fill="none" stroke="#1c0000" stroke-width="18" stroke-linecap="round" stroke-linejoin="round"/><path d="M 730.0 1000.0 C 750.0 993.3 808.3 965.0 850.0 960.0 C 891.7 955.0 941.7 958.3 980.0 970.0 C 1018.3 981.7 1050.0 1011.7 1080.0 1030.0 C 1110.0 1048.3 1146.7 1071.7 1160.0 1080.0" fill="none" stroke="#1c0000" stroke-width="18" stroke-linecap="round" stroke-linejoin="round"/><path d="M 1060.0 1140.0 C 1075.0 1133.3 1118.3 1105.0 1150.0 1100.0 C 1181.7 1095.0 1216.7 1098.3 1250.0 1110.0 C 1283.3 1121.7 1325.0 1155.0 1350.0 1170.0 C 1375.0 1185.0 1391.7 1195.0 1400.0 1200.0" fill="none" stroke="#1c0000" stroke-width="18" stroke-linecap="round" stroke-linejoin="round"/><path d="M 1150.0 1060.0 C 1161.7 1051.7 1191.7 1020.0 1220.0 1010.0 C 1248.3 1000.0 1286.7 993.3 1320.0 1000.0 C 1353.3 1006.7 1390.0 1031.7 1420.0 1050.0 C 1450.0 1068.3 1486.7 1100.0 1500.0 1110.0" fill="none" stroke="#1c0000" stroke-width="18" stroke-linecap="round" stroke-linejoin="round"/><path d="M 1200.0 910.0 L 1250.0 990.0" fill="none" stroke="#1c0000" stroke-width="18" stroke-linecap="round" stroke-linejoin="round"/><path d="M 1290.0 940.0 C 1308.3 936.7 1361.7 918.3 1400.0 920.0 C 1438.3 921.7 1486.7 935.0 1520.0 950.0 C 1553.3 965.0 1586.7 1000.0 1600.0 1010.0" fill="none" stroke="#1c0000" stroke-width="18" stroke-linecap="round" stroke-linejoin="round"/><path d="M 1380.0 800.0 L 1370.0 900.0" fill="none" stroke="#1c0000" stroke-width="18" stroke-linecap="round" stroke-linejoin="round"/><path d="M 1440.0 840.0 C 1453.3 831.7 1490.0 796.7 1520.0 790.0 C 1550.0 783.3 1583.3 790.0 1620.0 800.0 C 1656.7 810.0 1720.0 841.7 1740.0 850.0" fill="none" stroke="#1c0000" stroke-width="18" stroke-linecap="round" stroke-linejoin="round"/><path d="M 1660.0 970.0 C 1668.3 956.7 1690.0 908.3 1710.0 890.0 C 1730.0 871.7 1768.3 865.0 1780.0 860.0" fill="none" stroke="#1c0000" stroke-width="18" stroke-linecap="round" stroke-linejoin="round"/><path d="M 1600.0 1010.0 C 1616.7 1011.7 1658.3 1016.7 1700.0 1020.0 C 1741.7 1023.3 1796.7 1026.7 1850.0 1030.0 C 1903.3 1033.3 1991.7 1038.3 2020.0 1040.0" fill="none" stroke="#1c0000" stroke-width="18" stroke-linecap="round" stroke-linejoin="round"/><path d="M 1520.0 1070.0 L 1600.0 1020.0" fill="none" stroke="#1c0000" stroke-width="18" stroke-linecap="round" stroke-linejoin="round"/><path d="M 1710.0 1110.0 C 1721.7 1101.7 1756.7 1071.7 1780.0 1060.0 C 1803.3 1048.3 1838.3 1043.3 1850.0 1040.0" fill="none" stroke="#1c0000" stroke-width="18" stroke-linecap="round" stroke-linejoin="round"/><path d="M 1390.0 1160.0 C 1400.0 1153.3 1423.3 1128.3 1450.0 1120.0 C 1476.7 1111.7 1515.0 1106.7 1550.0 1110.0 C 1585.0 1113.3 1626.7 1130.0 1660.0 1140.0 C 1693.3 1150.0 1710.0 1163.3 1750.0 1170.0 C 1790.0 1176.7 1858.3 1170.0 1900.0 1180.0 C 1941.7 1190.0 1983.3 1221.7 2000.0 1230.0" fill="none" stroke="#1c0000" stroke-width="18" stroke-linecap="round" stroke-linejoin="round"/><path d="M 1640.0 1230.0 L 1680.0 1190.0" fill="none" stroke="#1c0000" stroke-width="18" stroke-linecap="round" stroke-linejoin="round"/><path d="M 1270.0 1220.0 C 1291.7 1216.7 1353.3 1200.0 1400.0 1200.0 C 1446.7 1200.0 1508.3 1206.7 1550.0 1220.0 C 1591.7 1233.3 1626.7 1256.7 1650.0 1280.0 C 1673.3 1303.3 1683.3 1340.0 1690.0 1360.0 C 1696.7 1380.0 1690.0 1393.3 1690.0 1400.0" fill="none" stroke="#1c0000" stroke-width="18" stroke-linecap="round" stroke-linejoin="round"/><path d="M 1260.0 1360.0 L 1280.0 1380.0" fill="none" stroke="#1c0000" stroke-width="18" stroke-linecap="round" stroke-linejoin="round"/></g>


<!-- speech bubble 1 -->
<path fill="#fff" stroke="#000" stroke-width="2.5" d="M 941 476 A 126 75 0 1 0 921.5 501 L 1003.5 507.5 Z"/>

<!-- speech bubble 2 -->
<path fill="#fff" stroke="#000" stroke-width="2.5" d="M 1478 955.6 A 125 74.5 0 1 1 1512.8 973.6 L 1448.7 994 Z"/>

<!-- Support My Exploration -->
<rect x="1053.8" y="674.4" width="267.5" height="127.7" fill="#fff" stroke="#000" stroke-width="2.8"/>

<!-- Welcome My Coming To You -->
<rect x="1044.7" y="982.7" width="315.4" height="139.1" fill="#fff" stroke="#000" stroke-width="2.8"/>

<!-- right list box -->
<rect x="1671" y="544.5" width="416" height="240.5" fill="#fff" stroke="#000" stroke-width="3"/>
<g fill="#000"><circle cx="1701" cy="588" r="7.3"/><circle cx="1701" cy="642" r="7.3"/><circle cx="1701" cy="695.7" r="7.3"/><circle cx="1701" cy="749.6" r="7.3"/></g>

<g transform="translate(1590 430) scale(0.17182)"><path d="M 150.0 965.0 C 165.0 959.2 210.8 978.7 250.0 985.0 C 289.2 991.3 361.3 983.8 385.0 1003.0 C 408.7 1022.2 394.5 1058.8 392.0 1100.0 C 389.5 1141.2 378.7 1200.0 370.0 1250.0 C 361.3 1300.0 348.0 1358.3 340.0 1400.0 C 332.0 1441.7 323.3 1473.3 322.0 1500.0 C 320.7 1526.7 330.7 1543.3 332.0 1560.0 C 333.3 1576.7 338.7 1588.0 330.0 1600.0 C 321.3 1612.0 298.3 1628.3 280.0 1632.0 C 261.7 1635.7 234.7 1629.0 220.0 1622.0 C 205.3 1615.0 195.3 1610.3 192.0 1590.0 C 188.7 1569.7 200.3 1531.7 200.0 1500.0 C 199.7 1468.3 190.3 1441.7 190.0 1400.0 C 189.7 1358.3 198.7 1300.0 198.0 1250.0 C 197.3 1200.0 192.3 1138.3 186.0 1100.0 C 179.7 1061.7 166.0 1042.5 160.0 1020.0 C 154.0 997.5 135.0 970.8 150.0 965.0 Z" fill="#8c1b02" stroke="#000" stroke-width="12" stroke-linejoin="round"/><path d="M 201.7 309.3 C 191.2 306.3 189.0 324.2 170.3 331.7 C 151.6 339.2 108.3 346.6 89.6 354.1 C 70.9 361.6 65.8 364.6 58.3 376.5 C 50.8 388.4 46.3 410.1 44.8 425.8 C 43.3 441.5 46.3 454.9 49.3 470.6 C 52.3 486.3 56.0 501.2 62.7 519.9 C 69.4 538.6 87.3 566.3 89.6 582.7 C 91.8 599.1 82.2 609.5 76.2 618.5 C 70.2 627.5 58.3 628.9 53.8 636.4 C 49.3 643.9 46.3 656.6 49.3 663.3 C 52.3 670.0 55.3 674.5 71.7 676.8 C 88.1 679.0 133.0 679.0 147.9 676.8 C 162.8 674.5 157.7 671.5 161.4 663.3 C 165.1 655.1 167.3 655.9 170.3 627.5 C 173.3 599.1 174.1 530.4 179.3 493.0 C 184.5 455.6 192.7 427.3 201.7 403.4 C 210.7 379.5 233.1 365.3 233.1 349.6 C 233.1 333.9 212.2 312.3 201.7 309.3 Z" fill="#8c1b02" stroke="#000" stroke-width="12" stroke-linejoin="round"/><path d="M 114.4 699.7 L 98.4 763.7 L 93.1 843.6 L 98.4 896.9 L 146.4 960.9 L 189.0 966.2 L 269.0 971.5 L 359.6 992.8 L 380.9 1003.5 L 455.5 907.6 L 508.8 864.9 L 562.1 838.3 L 508.8 822.3 L 471.5 806.3 L 460.8 747.7 L 482.2 683.7 L 508.8 646.4 L 508.8 619.7 L 455.5 630.4 L 402.2 646.4 L 359.6 678.4 L 295.6 737.0 L 215.7 769.0 L 157.0 710.4 Z" fill="#fff" stroke="#000" stroke-width="12" stroke-linejoin="round"/><path d="M 370 985 L 455 910 L 562 838" stroke="#000" stroke-width="28" stroke-linecap="round" fill="none"/><path d="M 313.7 264.0 C 330.1 258.1 339.9 262.5 358.6 264.4 C 377.3 266.3 403.4 274.1 425.8 275.6 C 448.2 277.1 468.4 273.8 493.0 273.4 C 517.6 273.0 552.8 266.7 573.7 273.4 C 594.6 280.1 606.5 298.0 618.5 313.7 C 630.5 329.4 637.9 352.6 645.4 367.5 C 652.9 382.4 659.6 389.9 663.3 403.4 C 667.0 416.8 666.3 433.3 667.8 448.2 C 669.3 463.1 671.5 478.1 672.3 493.0 C 673.0 507.9 673.0 525.8 672.3 537.8 C 671.5 549.8 679.8 554.3 667.8 564.7 C 655.8 575.1 626.5 590.8 600.0 600.0 C 573.5 609.2 532.9 614.6 508.8 619.7 C 484.7 624.8 473.3 626.0 455.5 630.4 C 437.7 634.8 418.2 638.4 402.2 646.4 C 386.2 654.4 377.4 663.3 359.6 678.4 C 341.8 693.5 319.6 721.9 295.6 737.0 C 271.6 752.1 238.8 773.4 215.7 769.0 C 192.6 764.6 167.9 730.2 157.0 710.4 C 146.1 690.6 149.5 675.1 150.0 650.0 C 150.5 624.9 155.0 593.3 160.0 560.0 C 165.0 526.7 173.3 480.0 180.0 450.0 C 186.7 420.0 191.2 396.7 200.0 380.0 C 208.8 363.3 223.1 362.9 233.1 349.6 C 243.1 336.3 246.6 314.3 260.0 300.0 C 273.4 285.7 297.3 269.9 313.7 264.0 Z" fill="#8c1b02" stroke="#000" stroke-width="12" stroke-linejoin="round"/><path d="M 233 350 L 201.7 403.4 L 179.3 493 L 165.8 582.7 L 156.9 672.3" fill="none" stroke="#000" stroke-width="10"/><path d="M 551.3 466.1 C 558.8 459.4 570.7 466.9 573.7 475.1 C 576.7 483.3 575.2 504.9 569.2 515.4 C 563.2 525.8 544.5 537.8 537.8 537.8 C 531.1 537.8 526.6 527.3 528.9 515.4 C 531.1 503.4 543.8 472.8 551.3 466.1 Z" fill="#fff" stroke="#000" stroke-width="10"/><path d="M 471.5 806.3 C 463.5 793.9 459.0 768.1 460.8 747.7 C 462.6 727.3 469.8 703.2 482.2 683.7 C 494.6 664.2 513.2 646.4 535.4 630.4 C 557.6 614.4 588.8 598.5 615.4 587.8 C 642.0 577.1 673.1 570.8 695.3 566.4 C 717.5 562.0 726.4 559.3 748.6 561.1 C 770.8 562.9 802.0 570.0 828.6 577.1 C 855.2 584.2 881.9 595.8 908.5 603.8 C 935.1 611.8 961.8 620.7 988.5 625.1 C 1015.2 629.5 1047.2 633.1 1068.5 630.4 C 1089.8 627.7 1104.9 610.0 1116.4 609.1 C 1127.9 608.2 1133.2 617.1 1137.7 625.1 C 1142.2 633.1 1199.0 650.0 1143.1 657.1 C 1087.1 664.2 872.2 656.2 802.0 667.7 C 731.8 679.2 748.6 707.6 722.0 726.3 C 695.4 744.9 668.8 763.6 642.1 779.6 C 615.5 795.6 584.3 815.2 562.1 822.3 C 539.9 829.4 523.9 825.0 508.8 822.3 C 493.7 819.6 479.5 818.7 471.5 806.3 Z" fill="#8c1b02" stroke="#000" stroke-width="12" stroke-linejoin="round"/><path d="M 600.0 260.0 C 605.0 253.6 637.9 282.4 649.9 291.3 C 661.9 300.2 670.1 302.5 672.3 313.7 C 674.5 324.9 667.8 347.4 663.3 358.6 C 658.8 369.8 652.6 385.8 645.4 381.0 C 638.2 376.2 627.6 350.2 620.0 330.0 C 612.4 309.8 595.0 266.4 600.0 260.0 Z" fill="#8c1b02"/><path d="M 309.3 192.7 L 322.7 147.9 L 345.1 121.0 L 363.0 85.2 L 394.4 53.8 L 448.2 31.4 L 502.0 35.9 L 560.3 49.3 L 618.5 67.2 L 640.9 103.1 L 685.7 125.5 L 712.6 161.4 L 721.6 206.2 L 735.0 237.5 L 735.0 277.9 L 708.2 313.7 L 681.3 340.6 L 663.3 372.0 L 649.9 313.7 L 627.5 286.8 L 618.5 251.0 L 600.6 219.6 L 578.2 224.1 L 569.2 268.9 L 493.0 273.4 L 425.8 275.6 L 358.6 264.4 L 313.7 260.0 Z" fill="#1c0300"/><path d="M 580 226 C 596 214 614 230 616 262 C 618 285 600 292 588 282" fill="#8c1b02" stroke="#000" stroke-width="8"/><path d="M 590 290 L 640 370 L 660 420" fill="none" stroke="#000" stroke-width="8"/></g>
<!-- left list box -->
<rect x="317.8" y="1183.9" width="499.1" height="239.2" fill="#fff" stroke="#000" stroke-width="2.8"/>
<g fill="#000"><circle cx="348" cy="1226" r="7.3"/><circle cx="348" cy="1280" r="7.3"/><circle cx="348" cy="1333.6" r="7.3"/><circle cx="348" cy="1388" r="7.3"/></g>

<g transform="translate(640 1015) scale(0.10070)"><path d="M 555.0 400.0 L 600.0 370.0 L 620.0 250.0 L 660.0 240.0 L 690.0 310.0 L 710.0 225.0 L 760.0 210.0 L 800.0 250.0 L 830.0 265.0 L 850.0 330.0 L 870.0 380.0 L 860.0 440.0 L 820.0 500.0 L 760.0 540.0 L 740.0 580.0 L 740.0 700.0 L 760.0 760.0 L 650.0 820.0 L 580.0 880.0 L 550.0 890.0 L 520.0 760.0 L 540.0 620.0 L 560.0 500.0 L 550.0 450.0 Z" fill="#d7a898" stroke="#000" stroke-width="16" stroke-linejoin="round"/><path d="M 840.0 680.0 L 880.0 860.0 L 900.0 950.0 L 910.0 1050.0 L 930.0 1150.0 L 970.0 1200.0 L 1000.0 1300.0 L 980.0 1400.0 L 800.0 1340.0 L 680.0 1250.0 L 600.0 1120.0 L 560.0 1000.0 L 560.0 940.0 L 585.0 895.0 L 560.0 860.0 L 620.0 835.0 L 690.0 800.0 L 760.0 740.0 Z" fill="#d7a898" stroke="#000" stroke-width="16" stroke-linejoin="round"/><path d="M 115.0 200.0 L 150.0 185.0 L 215.0 240.0 L 225.0 130.0 L 260.0 110.0 L 290.0 150.0 L 300.0 110.0 L 340.0 95.0 L 370.0 150.0 L 395.0 245.0 L 450.0 160.0 L 490.0 140.0 L 520.0 170.0 L 500.0 250.0 L 460.0 320.0 L 450.0 400.0 L 440.0 480.0 L 430.0 600.0 L 470.0 720.0 L 520.0 840.0 L 570.0 980.0 L 600.0 1100.0 L 600.0 1210.0 L 540.0 1290.0 L 420.0 1330.0 L 380.0 1220.0 L 330.0 1050.0 L 280.0 880.0 L 240.0 720.0 L 210.0 560.0 L 190.0 450.0 L 180.0 380.0 L 190.0 320.0 L 160.0 280.0 Z" fill="#d7a898" stroke="#000" stroke-width="16" stroke-linejoin="round"/><path d="M 317.7 2224.3 C 227.7 2249.0 338.9 2336.3 391.9 2361.9 C 444.8 2387.5 559.6 2379.6 635.5 2377.8 C 711.4 2376.1 797.9 2362.8 847.3 2351.4 C 896.7 2339.9 917.9 2331.9 932.0 2309.0 C 946.1 2286.0 1034.4 2227.8 932.0 2213.7 C 829.6 2199.5 407.8 2199.5 317.7 2224.3 Z" fill="#d7a898" stroke="#000" stroke-width="16" stroke-linejoin="round"/><path d="M 296.5 2436.1 C 305.4 2414.9 314.2 2381.4 370.7 2372.5 C 427.2 2363.7 547.2 2388.4 635.5 2383.1 C 723.7 2377.8 843.7 2360.2 900.2 2340.8 C 956.7 2321.3 955.0 2271.9 974.4 2266.6 C 993.8 2261.3 1009.7 2286.0 1016.7 2309.0 C 1023.8 2331.9 1009.7 2369.0 1016.7 2404.3 C 1023.8 2439.6 1052.0 2471.4 1059.1 2520.8 C 1066.2 2570.2 1076.8 2662.0 1059.1 2700.9 C 1041.4 2739.7 997.3 2737.9 953.2 2753.8 C 909.1 2769.7 840.2 2785.6 794.3 2796.2 C 748.4 2806.8 700.8 2831.5 677.8 2817.4 C 654.9 2803.2 667.2 2746.7 656.6 2711.4 C 646.1 2676.1 639.0 2633.8 614.3 2605.5 C 589.6 2577.3 550.7 2550.8 508.4 2542.0 C 466.0 2533.2 391.9 2559.6 360.1 2552.6 C 328.3 2545.5 328.3 2519.0 317.7 2499.6 C 307.1 2480.2 287.7 2457.3 296.5 2436.1 Z" fill="#f7eed5" stroke="#000" stroke-width="16" stroke-linejoin="round"/><path d="M 667.2 2827.9 C 690.2 2810.3 746.7 2808.5 794.3 2796.2 C 842.0 2783.8 909.1 2766.2 953.2 2753.8 C 997.3 2741.5 1015.0 2722.0 1059.1 2722.0 C 1103.2 2722.0 1173.8 2745.0 1218.0 2753.8 C 1262.1 2762.6 1299.2 2757.3 1323.9 2775.0 C 1348.6 2792.6 1348.6 2838.5 1366.2 2859.7 C 1383.9 2880.9 1403.3 2893.3 1429.8 2902.1 C 1456.3 2910.9 1505.7 2902.1 1525.1 2912.7 C 1544.5 2923.3 1548.1 2942.7 1546.3 2965.6 C 1544.5 2988.6 1528.6 3030.9 1514.5 3050.4 C 1500.4 3069.8 1493.3 3078.6 1461.6 3082.1 C 1429.8 3085.7 1364.5 3078.6 1323.9 3071.5 C 1283.3 3064.5 1253.3 3046.8 1218.0 3039.8 C 1182.7 3032.7 1147.4 3032.7 1112.1 3029.2 C 1076.8 3025.6 1032.6 3023.9 1006.1 3018.6 C 979.7 3013.3 979.7 3006.2 953.2 2997.4 C 926.7 2988.6 882.6 2976.2 847.3 2965.6 C 812.0 2955.0 773.1 2944.4 741.4 2933.9 C 709.6 2923.3 669.0 2919.7 656.6 2902.1 C 644.3 2884.4 644.3 2845.6 667.2 2827.9 Z" fill="#d7a898" stroke="#000" stroke-width="16" stroke-linejoin="round"/><path d="M 360.1 2552.6 C 390.1 2536.7 413.0 2529.6 444.8 2531.4 C 476.6 2533.2 519.0 2545.5 550.7 2563.2 C 582.5 2580.8 617.8 2609.1 635.5 2637.3 C 653.1 2665.6 654.9 2688.5 656.6 2732.6 C 658.4 2776.8 631.9 2868.5 646.1 2902.1 C 660.2 2935.6 707.8 2921.5 741.4 2933.9 C 774.9 2946.2 812.0 2963.9 847.3 2976.2 C 882.6 2988.6 917.9 2995.6 953.2 3008.0 C 988.5 3020.4 1023.8 3038.0 1059.1 3050.4 C 1094.4 3062.7 1140.3 3071.5 1165.0 3082.1 C 1189.7 3092.7 1202.1 3099.8 1207.4 3113.9 C 1212.7 3128.0 1205.6 3151.0 1196.8 3166.9 C 1188.0 3182.7 1166.8 3196.9 1154.4 3209.2 C 1142.1 3221.6 1145.6 3232.2 1122.6 3241.0 C 1099.7 3249.8 1062.6 3262.2 1016.7 3262.2 C 970.8 3262.2 928.5 3248.1 847.3 3241.0 C 766.1 3233.9 617.8 3225.1 529.5 3219.8 C 441.3 3214.5 376.0 3219.8 317.7 3209.2 C 259.5 3198.6 213.6 3182.7 180.0 3156.3 C 146.5 3129.8 127.1 3099.8 116.5 3050.4 C 105.9 3000.9 107.7 2909.1 116.5 2859.7 C 125.3 2810.3 144.7 2792.6 169.5 2753.8 C 194.2 2715.0 233.0 2660.3 264.8 2626.7 C 296.5 2593.2 330.1 2568.5 360.1 2552.6 Z" fill="#d7a898" stroke="#000" stroke-width="16" stroke-linejoin="round"/><path d="M 391.9 2944.4 C 397.2 2939.2 390.1 2919.7 423.6 2912.7 C 457.2 2905.6 564.9 2903.8 593.1 2902.1" fill="none" stroke="#000" stroke-width="14" stroke-linecap="round"/><path d="M 804.9 2976.2 L 857.9 2986.8" fill="none" stroke="#000" stroke-width="14" stroke-linecap="round"/><path d="M 985.0 3008.0 C 988.5 3015.1 970.8 3039.8 1006.1 3050.4 C 1041.4 3060.9 1165.0 3068.0 1196.8 3071.5" fill="none" stroke="#000" stroke-width="14" stroke-linecap="round"/><path d="M 656.6 2827.9 C 660.2 2842.1 663.7 2894.1 677.8 2912.7 C 691.9 2931.2 730.8 2934.7 741.4 2939.2" fill="none" stroke="#000" stroke-width="14" stroke-linecap="round"/><path d="M 380.0 1340.0 L 480.0 1320.0 L 600.0 1210.0 L 620.0 1100.0 L 700.0 1180.0 L 800.0 1260.0 L 900.0 1290.0 L 960.0 1350.0 L 1000.0 1480.0 L 1050.0 1590.0 L 1059.1 1673.5 L 1016.7 1779.4 L 974.4 1906.5 L 995.6 2160.7 L 794.3 2224.3 L 635.5 2256.0 L 476.6 2266.6 L 317.7 2234.9 L 201.2 2192.5 L 243.6 1853.6 L 275.4 1588.8 L 300.0 1480.0 L 340.0 1400.0 Z" fill="#aa0099" stroke="#000" stroke-width="16" stroke-linejoin="round"/><path d="M 470 1590 L 470 1700" stroke="#700070" stroke-width="8" fill="none"/><path d="M 800.0 660.0 C 800.0 643.3 830.0 650.0 850.0 640.0 C 870.0 630.0 886.7 605.0 920.0 600.0 C 953.3 595.0 1011.7 600.0 1050.0 610.0 C 1088.3 620.0 1115.0 636.7 1150.0 660.0 C 1185.0 683.3 1228.3 715.0 1260.0 750.0 C 1291.7 785.0 1316.7 828.3 1340.0 870.0 C 1363.3 911.7 1386.7 953.3 1400.0 1000.0 C 1413.3 1046.7 1416.7 1100.0 1420.0 1150.0 C 1423.3 1200.0 1425.0 1250.0 1420.0 1300.0 C 1415.0 1350.0 1405.0 1406.7 1390.0 1450.0 C 1375.0 1493.3 1351.7 1531.7 1330.0 1560.0 C 1308.3 1588.3 1290.0 1606.7 1260.0 1620.0 C 1230.0 1633.3 1183.3 1638.3 1150.0 1640.0 C 1116.7 1641.7 1085.0 1643.3 1060.0 1630.0 C 1035.0 1616.7 1013.3 1585.0 1000.0 1560.0 C 986.7 1535.0 986.7 1523.3 980.0 1480.0 C 973.3 1436.7 966.7 1346.7 960.0 1300.0 C 953.3 1253.3 948.3 1233.3 940.0 1200.0 C 931.7 1166.7 916.7 1141.7 910.0 1100.0 C 903.3 1058.3 905.0 991.7 900.0 950.0 C 895.0 908.3 880.0 871.7 880.0 850.0 C 880.0 828.3 905.0 838.3 900.0 820.0 C 895.0 801.7 866.7 766.7 850.0 740.0 C 833.3 713.3 800.0 676.7 800.0 660.0 Z" fill="#8b4519" stroke="#000" stroke-width="16" stroke-linejoin="round"/><path d="M 700 880 L 790 870 L 760 900 Z" fill="#000" stroke="#000" stroke-width="16"/><path d="M 840 1200 C 860 1180 900 1180 910 1210 C 890 1240 860 1240 840 1200 Z" fill="#000"/><path d="M 880 840 C 910 820 930 830 930 860" fill="none" stroke="#000" stroke-width="8"/></g>
<!-- bottom double box -->
<rect x="864.75" y="1248.7" width="1111.25" height="194.9" fill="#fff" stroke="#000" stroke-width="3.4"/>
<rect x="870" y="1254.5" width="1101" height="183.7" fill="none" stroke="#000" stroke-width="3"/>

<!-- rotated labels -->

<path d="M 594.92 175.24 C 589.64 167.98 583.04 166.00 576.44 166.00 C 563.24 166.00 554.00 180.52 554.00 199.00 C 554.00 218.80 563.24 232.00 577.76 232.00 C 587.00 232.00 593.60 228.04 597.56 222.76 M 616.06 166.00 L 653.68 166.00 M 634.54 166.00 L 634.54 232.00 M 616.06 232.00 L 653.68 232.00 M 672.18 232.00 L 672.18 166.00 C 702.54 166.00 715.74 172.60 715.74 184.48 C 715.74 197.68 702.54 201.64 674.82 201.64 M 689.34 201.64 L 718.38 232.00 M 777.80 175.24 C 772.52 167.98 765.92 166.00 759.32 166.00 C 746.12 166.00 736.88 180.52 736.88 199.00 C 736.88 218.80 746.12 232.00 760.64 232.00 C 769.88 232.00 776.48 228.04 780.44 222.76 M 798.95 166.00 L 798.95 232.00 L 836.57 230.68 M 893.35 166.00 L 857.71 166.00 L 856.39 232.00 L 895.99 232.00 M 857.05 197.68 L 888.07 197.68 M 988.41 166.00 C 1005.18 166.00 1018.77 180.77 1018.77 199.00 C 1018.77 217.23 1005.18 232.00 988.41 232.00 C 971.64 232.00 958.05 217.23 958.05 199.00 C 958.05 180.77 971.64 166.00 988.41 166.00 M 1076.87 166.00 L 1039.91 166.00 L 1038.59 232.00 M 1039.25 197.68 L 1070.27 196.36 M 1185.13 173.92 C 1179.85 167.32 1171.93 166.00 1164.01 166.00 C 1149.49 166.00 1141.57 172.60 1141.57 182.50 C 1141.57 193.72 1156.09 196.36 1165.33 199.00 C 1178.53 202.30 1189.09 206.92 1189.09 216.16 C 1189.09 226.72 1177.21 232.00 1162.69 232.00 C 1150.81 232.00 1142.89 229.36 1138.93 224.08 M 1245.87 166.00 L 1210.23 166.00 L 1208.91 232.00 L 1248.51 232.00 M 1209.57 197.68 L 1240.59 197.68 M 1307.93 175.24 C 1302.65 167.98 1296.05 166.00 1289.45 166.00 C 1276.25 166.00 1267.01 180.52 1267.01 199.00 C 1267.01 218.80 1276.25 232.00 1290.77 232.00 C 1300.01 232.00 1306.61 228.04 1310.57 222.76 M 1329.07 166.00 L 1329.07 206.92 C 1329.07 224.08 1339.63 232.00 1354.81 232.00 C 1369.99 232.00 1380.55 224.08 1380.55 206.92 L 1380.55 166.00 M 1399.06 232.00 L 1399.06 166.00 C 1429.42 166.00 1442.62 172.60 1442.62 184.48 C 1442.62 197.68 1429.42 201.64 1401.70 201.64 M 1416.22 201.64 L 1445.26 232.00 M 1463.76 166.00 L 1501.38 166.00 M 1482.24 166.00 L 1482.24 232.00 M 1463.76 232.00 L 1501.38 232.00 M 1519.88 166.00 L 1575.98 166.00 M 1548.26 166.00 L 1548.26 232.00 M 1594.48 166.00 L 1619.56 199.00 M 1642.00 166.00 L 1610.32 232.00" fill="none" stroke="#000" stroke-width="14.00" stroke-linecap="round" stroke-linejoin="round"/>
<path d="M 706.40 300.70 L 706.40 279.00 C 715.95 279.00 719.85 281.17 719.85 285.08 C 719.85 289.42 715.51 291.15 706.40 291.15 M 727.38 300.70 L 734.76 279.00 L 735.63 279.00 L 743.01 300.70 M 730.42 292.89 L 740.40 292.45 M 750.53 300.70 L 750.53 279.00 C 760.52 279.00 764.86 281.17 764.86 285.08 C 764.86 289.42 760.52 290.72 751.40 290.72 M 756.18 290.72 L 765.72 300.70 M 785.84 279.00 L 774.12 279.00 L 773.68 300.70 L 786.70 300.70 M 773.90 289.42 L 784.10 289.42 M 794.23 300.70 L 794.23 279.00 L 809.42 300.70 L 809.42 279.00 M 816.95 279.00 L 835.40 279.00 M 826.28 279.00 L 826.28 300.70 M 857.24 300.70 L 864.62 279.00 L 865.49 279.00 L 872.87 300.70 M 860.28 292.89 L 870.26 292.45 M 880.40 279.00 L 898.84 279.00 M 889.73 279.00 L 889.73 300.70 M 906.37 279.00 L 924.81 279.00 M 915.70 279.00 L 915.70 300.70 M 944.93 279.00 L 933.21 279.00 L 932.78 300.70 L 945.80 300.70 M 932.99 289.42 L 943.19 289.42 M 953.32 300.70 L 953.32 279.00 L 968.51 300.70 L 968.51 279.00 M 976.47 279.00 L 976.04 300.70 M 976.47 279.00 C 986.89 279.00 991.23 283.77 991.23 289.85 C 991.23 296.79 986.46 300.70 976.04 300.70 M 998.76 279.00 L 1011.13 279.00 M 1004.83 279.00 L 1004.83 300.70 M 998.76 300.70 L 1011.13 300.70 M 1018.65 300.70 L 1018.65 279.00 L 1033.84 300.70 L 1033.84 279.00 M 1055.26 282.04 C 1053.52 279.65 1051.35 279.00 1049.18 279.00 C 1044.41 279.00 1041.37 283.77 1041.37 289.85 C 1041.37 296.36 1044.41 300.70 1049.62 300.70 C 1054.39 300.70 1057.00 297.66 1057.00 291.59 L 1050.49 291.59 M 1078.85 279.00 L 1097.29 279.00 M 1088.18 279.00 L 1088.18 300.70 M 1114.80 279.00 C 1120.31 279.00 1124.78 283.86 1124.78 289.85 C 1124.78 295.84 1120.31 300.70 1114.80 300.70 C 1109.29 300.70 1104.82 295.84 1104.82 289.85 C 1104.82 283.86 1109.29 279.00 1114.80 279.00 M 1146.63 279.00 L 1165.08 279.00 M 1155.96 279.00 L 1155.96 300.70 M 1172.61 279.00 L 1172.61 300.70 M 1187.80 279.00 L 1187.80 300.70 M 1172.61 289.85 L 1187.80 289.85 M 1207.91 279.00 L 1196.19 279.00 L 1195.76 300.70 L 1208.78 300.70 M 1195.97 289.42 L 1206.17 289.42 M 1244.08 282.04 C 1242.34 279.65 1240.17 279.00 1238.00 279.00 C 1233.66 279.00 1230.63 283.77 1230.63 289.85 C 1230.63 296.36 1233.66 300.70 1238.44 300.70 C 1241.48 300.70 1243.65 299.40 1244.95 297.66 M 1252.48 279.00 L 1252.48 300.70 M 1267.67 279.00 L 1267.67 300.70 M 1252.48 289.85 L 1267.67 289.85 M 1275.19 279.00 L 1287.56 279.00 M 1281.27 279.00 L 1281.27 300.70 M 1275.19 300.70 L 1287.56 300.70 M 1295.09 279.00 L 1295.09 300.70 L 1307.46 300.27 M 1315.42 279.00 L 1314.99 300.70 M 1315.42 279.00 C 1325.84 279.00 1330.18 283.77 1330.18 289.85 C 1330.18 296.79 1325.40 300.70 1314.99 300.70 M 1339.44 279.00 L 1337.70 283.77 M 1362.16 281.60 C 1360.42 279.43 1357.82 279.00 1355.21 279.00 C 1350.44 279.00 1347.84 281.17 1347.84 284.43 C 1347.84 288.11 1352.61 288.98 1355.65 289.85 C 1359.99 290.94 1363.46 292.45 1363.46 295.49 C 1363.46 298.96 1359.55 300.70 1354.78 300.70 C 1350.87 300.70 1348.27 299.83 1346.97 298.10 M 1385.31 300.70 L 1385.31 279.00 L 1400.50 300.70 L 1400.50 279.00 M 1420.61 279.00 L 1408.90 279.00 L 1408.46 300.70 L 1421.48 300.70 M 1408.68 289.42 L 1418.88 289.42 M 1441.59 279.00 L 1429.88 279.00 L 1429.44 300.70 L 1442.46 300.70 M 1429.66 289.42 L 1439.86 289.42 M 1450.42 279.00 L 1449.99 300.70 M 1450.42 279.00 C 1460.84 279.00 1465.18 283.77 1465.18 289.85 C 1465.18 296.79 1460.41 300.70 1449.99 300.70 M 1487.90 281.60 C 1486.16 279.43 1483.56 279.00 1480.95 279.00 C 1476.18 279.00 1473.58 281.17 1473.58 284.43 C 1473.58 288.11 1478.35 288.98 1481.39 289.85 C 1485.73 290.94 1489.20 292.45 1489.20 295.49 C 1489.20 298.96 1485.29 300.70 1480.52 300.70 C 1476.61 300.70 1474.01 299.83 1472.71 298.10" fill="none" stroke="#000" stroke-width="3.60" stroke-linecap="round" stroke-linejoin="round"/>
<path d="M 768.30 428.30 L 780.10 428.30 M 774.10 428.30 L 774.10 449.00 M 768.30 449.00 L 780.10 449.00 M 802.46 435.34 L 802.46 449.00 M 802.46 440.72 C 803.70 436.99 806.19 435.34 809.09 435.34 C 811.98 435.34 813.64 437.41 813.64 440.72 L 813.64 449.00 M 820.68 443.41 L 831.45 440.72 C 831.03 436.99 828.76 435.34 825.86 435.34 C 822.13 435.34 820.06 438.24 820.06 442.38 C 820.06 446.93 822.55 449.00 826.27 449.00 C 828.76 449.00 830.41 448.17 831.65 446.93 M 838.70 443.41 L 849.46 440.72 C 849.05 436.99 846.77 435.34 843.87 435.34 C 840.15 435.34 838.08 438.24 838.08 442.38 C 838.08 446.93 840.56 449.00 844.29 449.00 C 846.77 449.00 848.43 448.17 849.67 446.93 M 868.10 427.47 L 868.10 449.00 M 868.10 439.89 C 866.86 436.58 864.37 435.34 861.89 435.34 C 858.16 435.34 856.09 438.24 856.09 442.38 C 856.09 446.93 858.58 449.00 861.89 449.00 C 864.79 449.00 866.86 447.76 868.10 445.27" fill="none" stroke="#000" stroke-width="3.80" stroke-linecap="round" stroke-linejoin="round"/>
<path d="M 749.90 481.44 L 756.52 493.44 M 763.56 481.44 L 754.87 501.72 M 774.45 481.44 C 778.00 481.44 780.87 484.50 780.87 488.27 C 780.87 492.04 778.00 495.10 774.45 495.10 C 770.91 495.10 768.03 492.04 768.03 488.27 C 768.03 484.50 770.91 481.44 774.45 481.44 M 785.34 481.44 L 785.34 490.13 C 785.34 493.44 787.41 495.10 790.31 495.10 C 793.21 495.10 795.69 493.03 796.10 489.72 M 796.10 481.44 L 796.10 495.10 M 821.90 475.64 L 821.90 495.10 M 816.52 481.85 L 827.69 481.44 M 838.58 481.44 C 842.13 481.44 845.00 484.50 845.00 488.27 C 845.00 492.04 842.13 495.10 838.58 495.10 C 835.04 495.10 832.17 492.04 832.17 488.27 C 832.17 484.50 835.04 481.44 838.58 481.44" fill="none" stroke="#000" stroke-width="3.80" stroke-linecap="round" stroke-linejoin="round"/>
<circle cx="855.0" cy="495.2" r="2"/>
<circle cx="868.9" cy="495.2" r="2"/>
<circle cx="882.9" cy="495.2" r="2"/>
<path d="M 1507.10 879.00 L 1519.13 879.00 M 1513.01 879.00 L 1513.01 900.10 M 1507.10 900.10 L 1519.13 900.10 M 1541.51 886.17 L 1541.51 900.10 M 1541.51 891.66 C 1542.78 887.86 1545.31 886.17 1548.27 886.17 C 1551.22 886.17 1552.91 888.28 1552.91 891.66 L 1552.91 900.10 M 1559.68 894.40 L 1570.65 891.66 C 1570.23 887.86 1567.91 886.17 1564.96 886.17 C 1561.16 886.17 1559.05 889.13 1559.05 893.35 C 1559.05 897.99 1561.58 900.10 1565.38 900.10 C 1567.91 900.10 1569.60 899.26 1570.87 897.99 M 1577.64 894.40 L 1588.61 891.66 C 1588.19 887.86 1585.87 886.17 1582.91 886.17 C 1579.12 886.17 1577.01 889.13 1577.01 893.35 C 1577.01 897.99 1579.54 900.10 1583.34 900.10 C 1585.87 900.10 1587.56 899.26 1588.82 897.99 M 1607.20 878.16 L 1607.20 900.10 M 1607.20 890.82 C 1605.93 887.44 1603.40 886.17 1600.87 886.17 C 1597.07 886.17 1594.96 889.13 1594.96 893.35 C 1594.96 897.99 1597.49 900.10 1600.87 900.10 C 1603.82 900.10 1605.93 898.83 1607.20 896.30" fill="none" stroke="#000" stroke-width="3.80" stroke-linecap="round" stroke-linejoin="round"/>
<path d="M 1507.10 933.67 L 1513.85 945.91 M 1521.03 933.67 L 1512.16 954.35 M 1531.64 933.67 C 1535.25 933.67 1538.18 936.79 1538.18 940.64 C 1538.18 944.48 1535.25 947.60 1531.64 947.60 C 1528.03 947.60 1525.10 944.48 1525.10 940.64 C 1525.10 936.79 1528.03 933.67 1531.64 933.67 M 1542.26 933.67 L 1542.26 942.54 C 1542.26 945.91 1544.37 947.60 1547.32 947.60 C 1550.27 947.60 1552.81 945.49 1553.23 942.11 M 1553.23 933.67 L 1553.23 947.60 M 1579.04 927.77 L 1579.04 947.60 M 1573.55 934.10 L 1584.94 933.67 M 1595.56 933.67 C 1599.17 933.67 1602.10 936.79 1602.10 940.64 C 1602.10 944.48 1599.17 947.60 1595.56 947.60 C 1591.95 947.60 1589.02 944.48 1589.02 940.64 C 1589.02 936.79 1591.95 933.67 1595.56 933.67" fill="none" stroke="#000" stroke-width="3.80" stroke-linecap="round" stroke-linejoin="round"/>
<circle cx="1611.8" cy="947.7" r="2"/>
<circle cx="1625.8" cy="947.7" r="2"/>
<circle cx="1641.0" cy="947.7" r="2"/>
<path d="M 1099.69 703.48 C 1097.63 700.91 1094.55 700.40 1091.47 700.40 C 1085.81 700.40 1082.73 702.97 1082.73 706.83 C 1082.73 711.19 1088.38 712.22 1091.98 713.25 C 1097.12 714.53 1101.23 716.33 1101.23 719.93 C 1101.23 724.04 1096.61 726.10 1090.95 726.10 C 1086.33 726.10 1083.24 725.07 1081.70 723.02 M 1107.41 709.14 L 1107.41 719.93 C 1107.41 724.04 1109.98 726.10 1113.58 726.10 C 1117.18 726.10 1120.26 723.53 1120.78 719.42 M 1120.78 709.14 L 1120.78 726.10 M 1126.95 709.14 L 1126.95 734.32 M 1126.95 714.79 C 1128.50 710.68 1131.58 709.14 1134.66 709.14 C 1139.29 709.14 1141.86 712.74 1141.86 717.88 C 1141.86 723.53 1138.78 726.10 1134.66 726.10 C 1131.07 726.10 1128.50 724.56 1126.95 722.50 M 1148.04 709.14 L 1148.04 734.32 M 1148.04 714.79 C 1149.58 710.68 1152.67 709.14 1155.75 709.14 C 1160.38 709.14 1162.95 712.74 1162.95 717.88 C 1162.95 723.53 1159.86 726.10 1155.75 726.10 C 1152.15 726.10 1149.58 724.56 1148.04 722.50 M 1177.09 709.14 C 1181.49 709.14 1185.06 712.93 1185.06 717.62 C 1185.06 722.30 1181.49 726.10 1177.09 726.10 C 1172.69 726.10 1169.12 722.30 1169.12 717.62 C 1169.12 712.93 1172.69 709.14 1177.09 709.14 M 1191.24 709.14 L 1191.24 726.10 M 1191.24 716.33 C 1192.78 711.71 1195.86 709.14 1199.98 709.14 C 1202.03 709.14 1203.06 709.65 1204.09 710.68 M 1216.95 701.94 L 1216.95 726.10 M 1210.27 709.65 L 1224.15 709.14 M 1247.29 726.10 L 1249.34 700.40 L 1259.62 718.39 L 1269.90 700.40 L 1271.96 726.10 M 1278.14 709.14 L 1286.36 724.04 M 1295.10 709.14 L 1284.31 734.32" fill="none" stroke="#000" stroke-width="4.80" stroke-linecap="round" stroke-linejoin="round"/>
<path d="M 1103.29 755.30 L 1089.41 755.30 L 1088.90 781.00 L 1104.32 781.00 M 1089.16 767.64 L 1101.24 767.64 M 1111.06 764.04 L 1125.46 781.00 M 1125.46 764.04 L 1111.06 781.00 M 1132.20 764.04 L 1132.20 789.22 M 1132.20 769.69 C 1133.74 765.58 1136.82 764.04 1139.91 764.04 C 1144.53 764.04 1147.10 767.64 1147.10 772.78 C 1147.10 778.43 1144.02 781.00 1139.91 781.00 C 1136.31 781.00 1133.74 779.46 1132.20 777.40 M 1153.85 754.27 L 1153.85 781.00 M 1168.56 764.04 C 1172.96 764.04 1176.52 767.83 1176.52 772.52 C 1176.52 777.20 1172.96 781.00 1168.56 781.00 C 1164.16 781.00 1160.59 777.20 1160.59 772.52 C 1160.59 767.83 1164.16 764.04 1168.56 764.04 M 1183.27 764.04 L 1183.27 781.00 M 1183.27 771.23 C 1184.81 766.61 1187.89 764.04 1192.01 764.04 C 1194.06 764.04 1195.09 764.55 1196.12 765.58 M 1216.22 764.04 L 1216.74 781.00 M 1216.22 768.66 C 1214.68 765.07 1212.11 764.04 1209.54 764.04 C 1205.43 764.04 1202.86 767.64 1202.86 772.78 C 1202.86 778.43 1205.94 781.00 1209.54 781.00 C 1212.63 781.00 1215.20 779.46 1216.48 776.37 M 1230.16 756.84 L 1230.16 781.00 M 1223.48 764.55 L 1237.36 764.04 M 1244.10 764.04 L 1244.10 781.00 M 1244.10 756.84 L 1244.10 757.10 M 1258.81 764.04 C 1263.21 764.04 1266.78 767.83 1266.78 772.52 C 1266.78 777.20 1263.21 781.00 1258.81 781.00 C 1254.41 781.00 1250.85 777.20 1250.85 772.52 C 1250.85 767.83 1254.41 764.04 1258.81 764.04 M 1273.52 764.04 L 1273.52 781.00 M 1273.52 770.72 C 1275.06 766.09 1278.15 764.04 1281.75 764.04 C 1285.34 764.04 1287.40 766.61 1287.40 770.72 L 1287.40 781.00" fill="none" stroke="#000" stroke-width="4.80" stroke-linecap="round" stroke-linejoin="round"/>
<path d="M 1748.70 572.00 L 1754.35 597.70 L 1762.32 579.20 L 1770.29 597.70 L 1775.94 572.00 M 1796.07 580.74 L 1796.59 597.70 M 1796.07 585.36 C 1794.53 581.77 1791.96 580.74 1789.39 580.74 C 1785.28 580.74 1782.71 584.34 1782.71 589.48 C 1782.71 595.13 1785.79 597.70 1789.39 597.70 C 1792.47 597.70 1795.04 596.16 1796.33 593.07 M 1810.03 573.54 L 1810.03 597.70 M 1803.35 581.25 L 1817.23 580.74 M 1836.85 583.31 C 1835.30 581.25 1833.25 580.74 1831.19 580.74 C 1827.08 580.74 1824.00 584.34 1824.00 589.48 C 1824.00 595.13 1827.08 597.70 1831.19 597.70 C 1833.76 597.70 1835.82 596.67 1837.36 595.13 M 1844.13 570.97 L 1844.13 597.70 M 1844.13 587.42 C 1845.67 582.79 1848.75 580.74 1852.35 580.74 C 1855.95 580.74 1858.00 583.31 1858.00 587.42 L 1858.00 597.70 M 1889.70 580.74 C 1894.10 580.74 1897.67 584.53 1897.67 589.22 C 1897.67 593.90 1894.10 597.70 1889.70 597.70 C 1885.30 597.70 1881.73 593.90 1881.73 589.22 C 1881.73 584.53 1885.30 580.74 1889.70 580.74 M 1904.43 580.74 L 1911.63 597.70 L 1918.82 580.74 M 1926.36 590.76 L 1939.73 587.42 C 1939.21 582.79 1936.38 580.74 1932.79 580.74 C 1928.16 580.74 1925.59 584.34 1925.59 589.48 C 1925.59 595.13 1928.67 597.70 1933.30 597.70 C 1936.38 597.70 1938.44 596.67 1939.98 595.13 M 1946.75 580.74 L 1946.75 597.70 M 1946.75 587.93 C 1948.29 583.31 1951.37 580.74 1955.49 580.74 C 1957.54 580.74 1958.57 581.25 1959.60 582.28 M 1983.33 580.74 L 1983.33 597.70 M 1983.33 586.39 C 1984.35 582.28 1986.41 580.74 1989.24 580.74 C 1992.58 580.74 1994.63 582.79 1994.63 586.39 L 1994.63 597.70 M 1994.63 586.39 C 1995.66 582.28 1997.72 580.74 2000.55 580.74 C 2003.89 580.74 2005.94 582.79 2005.94 586.39 L 2005.94 597.70 M 2013.48 590.76 L 2026.84 587.42 C 2026.33 582.79 2023.50 580.74 2019.90 580.74 C 2015.28 580.74 2012.71 584.34 2012.71 589.48 C 2012.71 595.13 2015.79 597.70 2020.42 597.70 C 2023.50 597.70 2025.56 596.67 2027.10 595.13" fill="none" stroke="#000" stroke-width="4.80" stroke-linecap="round" stroke-linejoin="round"/>
<path d="M 1747.81 626.30 L 1747.30 652.00 M 1747.81 626.30 C 1760.15 626.30 1765.29 631.95 1765.29 639.15 C 1765.29 647.37 1759.64 652.00 1747.30 652.00 M 1774.20 645.06 L 1787.56 641.72 C 1787.05 637.09 1784.22 635.04 1780.62 635.04 C 1775.99 635.04 1773.42 638.64 1773.42 643.78 C 1773.42 649.43 1776.51 652.00 1781.13 652.00 C 1784.22 652.00 1786.27 650.97 1787.82 649.43 M 1795.95 625.27 L 1795.95 652.00 M 1804.09 635.04 L 1804.09 652.00 M 1804.09 627.84 L 1804.09 628.10 M 1826.61 635.04 L 1826.61 654.06 C 1826.61 658.17 1823.53 660.22 1819.42 660.22 C 1816.85 660.22 1814.79 659.20 1813.25 657.65 M 1826.61 639.66 C 1825.07 636.07 1822.50 635.04 1819.42 635.04 C 1814.79 635.04 1812.22 638.64 1812.22 643.26 C 1812.22 647.89 1815.30 650.46 1819.42 650.46 C 1823.01 650.46 1825.58 648.92 1826.61 645.83 M 1835.26 625.27 L 1835.26 652.00 M 1835.26 641.72 C 1836.80 637.09 1839.89 635.04 1843.49 635.04 C 1847.08 635.04 1849.14 637.61 1849.14 641.72 L 1849.14 652.00 M 1863.96 627.84 L 1863.96 652.00 M 1857.27 635.55 L 1871.15 635.04 M 1896.25 635.04 L 1896.25 652.00 M 1896.25 627.84 L 1896.25 628.10 M 1904.38 635.04 L 1904.38 652.00 M 1904.38 641.72 C 1905.92 637.09 1909.01 635.04 1912.61 635.04 C 1916.20 635.04 1918.26 637.61 1918.26 641.72 L 1918.26 652.00 M 1943.36 635.04 L 1943.36 652.00 M 1943.36 640.69 C 1944.39 636.58 1946.44 635.04 1949.27 635.04 C 1952.61 635.04 1954.67 637.09 1954.67 640.69 L 1954.67 652.00 M 1954.67 640.69 C 1955.69 636.58 1957.75 635.04 1960.58 635.04 C 1963.92 635.04 1965.97 637.09 1965.97 640.69 L 1965.97 652.00 M 1974.88 645.06 L 1988.24 641.72 C 1987.73 637.09 1984.90 635.04 1981.30 635.04 C 1976.68 635.04 1974.11 638.64 1974.11 643.78 C 1974.11 649.43 1977.19 652.00 1981.82 652.00 C 1984.90 652.00 1986.96 650.97 1988.50 649.43" fill="none" stroke="#000" stroke-width="4.80" stroke-linecap="round" stroke-linejoin="round"/>
<path d="M 1747.70 679.90 L 1747.70 705.60 M 1765.69 679.90 L 1765.69 705.60 M 1747.70 692.75 L 1765.69 692.75 M 1774.79 698.66 L 1788.15 695.32 C 1787.64 690.69 1784.81 688.64 1781.21 688.64 C 1776.59 688.64 1774.02 692.24 1774.02 697.38 C 1774.02 703.03 1777.10 705.60 1781.73 705.60 C 1784.81 705.60 1786.87 704.57 1788.41 703.03 M 1796.74 678.87 L 1796.74 705.60 M 1805.07 688.64 L 1805.07 713.82 M 1805.07 694.29 C 1806.61 690.18 1809.69 688.64 1812.78 688.64 C 1817.40 688.64 1819.97 692.24 1819.97 697.38 C 1819.97 703.03 1816.89 705.60 1812.78 705.60 C 1809.18 705.60 1806.61 704.06 1805.07 702.00 M 1845.26 688.64 L 1845.26 705.60 M 1845.26 694.29 C 1846.29 690.18 1848.35 688.64 1851.17 688.64 C 1854.52 688.64 1856.57 690.69 1856.57 694.29 L 1856.57 705.60 M 1856.57 694.29 C 1857.60 690.18 1859.66 688.64 1862.48 688.64 C 1865.82 688.64 1867.88 690.69 1867.88 694.29 L 1867.88 705.60 M 1876.98 698.66 L 1890.34 695.32 C 1889.83 690.69 1887.00 688.64 1883.40 688.64 C 1878.78 688.64 1876.21 692.24 1876.21 697.38 C 1876.21 703.03 1879.29 705.60 1883.92 705.60 C 1887.00 705.60 1889.06 704.57 1890.60 703.03" fill="none" stroke="#000" stroke-width="4.80" stroke-linecap="round" stroke-linejoin="round"/>
<path d="M 1762.09 734.90 L 1748.21 734.90 L 1747.70 760.60 L 1763.12 760.60 M 1747.96 747.24 L 1760.04 747.24 M 1769.89 743.64 L 1769.89 760.60 M 1769.89 750.32 C 1771.44 745.69 1774.52 743.64 1778.12 743.64 C 1781.72 743.64 1783.77 746.21 1783.77 750.32 L 1783.77 760.60 M 1798.25 743.64 L 1798.25 763.17 C 1798.25 766.77 1796.20 768.82 1793.11 768.82 C 1791.06 768.82 1789.52 767.80 1788.49 766.25 M 1798.25 736.44 L 1798.25 736.70 M 1813.00 743.64 C 1817.40 743.64 1820.96 747.43 1820.96 752.12 C 1820.96 756.80 1817.40 760.60 1813.00 760.60 C 1808.60 760.60 1805.03 756.80 1805.03 752.12 C 1805.03 747.43 1808.60 743.64 1813.00 743.64 M 1827.74 743.64 L 1835.96 758.54 M 1844.70 743.64 L 1833.90 768.82 M 1868.43 743.64 L 1873.06 760.60 L 1878.97 747.75 L 1884.88 760.60 L 1889.51 743.64 M 1896.28 743.64 L 1896.28 760.60 M 1896.28 736.44 L 1896.28 736.70 M 1909.74 736.44 L 1909.74 760.60 M 1903.05 744.15 L 1916.93 743.64 M 1923.71 733.87 L 1923.71 760.60 M 1923.71 750.32 C 1925.25 745.69 1928.33 743.64 1931.93 743.64 C 1935.53 743.64 1937.58 746.21 1937.58 750.32 L 1937.58 760.60 M 1961.32 743.64 L 1961.32 760.60 M 1961.32 749.29 C 1962.35 745.18 1964.40 743.64 1967.23 743.64 C 1970.57 743.64 1972.63 745.69 1972.63 749.29 L 1972.63 760.60 M 1972.63 749.29 C 1973.65 745.18 1975.71 743.64 1978.54 743.64 C 1981.88 743.64 1983.93 745.69 1983.93 749.29 L 1983.93 760.60 M 1991.48 753.66 L 2004.84 750.32 C 2004.33 745.69 2001.50 743.64 1997.90 743.64 C 1993.28 743.64 1990.71 747.24 1990.71 752.38 C 1990.71 758.03 1993.79 760.60 1998.42 760.60 C 2001.50 760.60 2003.56 759.57 2005.10 758.03" fill="none" stroke="#000" stroke-width="4.80" stroke-linecap="round" stroke-linejoin="round"/>
<path d="M 1071.40 1008.60 L 1077.05 1034.30 L 1085.02 1015.80 L 1092.99 1034.30 L 1098.64 1008.60 M 1107.32 1027.36 L 1120.69 1024.02 C 1120.17 1019.39 1117.34 1017.34 1113.75 1017.34 C 1109.12 1017.34 1106.55 1020.94 1106.55 1026.08 C 1106.55 1031.73 1109.63 1034.30 1114.26 1034.30 C 1117.34 1034.30 1119.40 1033.27 1120.94 1031.73 M 1128.85 1007.57 L 1128.85 1034.30 M 1149.61 1019.91 C 1148.07 1017.85 1146.01 1017.34 1143.95 1017.34 C 1139.84 1017.34 1136.76 1020.94 1136.76 1026.08 C 1136.76 1031.73 1139.84 1034.30 1143.95 1034.30 C 1146.52 1034.30 1148.58 1033.27 1150.12 1031.73 M 1166.00 1017.34 C 1170.40 1017.34 1173.96 1021.13 1173.96 1025.82 C 1173.96 1030.50 1170.40 1034.30 1166.00 1034.30 C 1161.60 1034.30 1158.03 1030.50 1158.03 1025.82 C 1158.03 1021.13 1161.60 1017.34 1166.00 1017.34 M 1181.87 1017.34 L 1181.87 1034.30 M 1181.87 1022.99 C 1182.90 1018.88 1184.96 1017.34 1187.78 1017.34 C 1191.12 1017.34 1193.18 1019.39 1193.18 1022.99 L 1193.18 1034.30 M 1193.18 1022.99 C 1194.21 1018.88 1196.26 1017.34 1199.09 1017.34 C 1202.43 1017.34 1204.49 1019.39 1204.49 1022.99 L 1204.49 1034.30 M 1213.17 1027.36 L 1226.53 1024.02 C 1226.02 1019.39 1223.19 1017.34 1219.59 1017.34 C 1214.97 1017.34 1212.40 1020.94 1212.40 1026.08 C 1212.40 1031.73 1215.48 1034.30 1220.11 1034.30 C 1223.19 1034.30 1225.25 1033.27 1226.79 1031.73 M 1251.66 1034.30 L 1253.71 1008.60 L 1263.99 1026.59 L 1274.27 1008.60 L 1276.33 1034.30 M 1284.24 1017.34 L 1292.46 1032.24 M 1301.20 1017.34 L 1290.41 1042.52" fill="none" stroke="#000" stroke-width="4.80" stroke-linecap="round" stroke-linejoin="round"/>
<path d="M 1084.33 1066.00 C 1082.28 1063.17 1079.71 1062.40 1077.14 1062.40 C 1072.00 1062.40 1068.40 1068.05 1068.40 1075.25 C 1068.40 1082.96 1072.00 1088.10 1077.65 1088.10 C 1081.25 1088.10 1083.82 1086.56 1085.36 1084.50 M 1099.55 1071.14 C 1103.95 1071.14 1107.52 1074.93 1107.52 1079.62 C 1107.52 1084.30 1103.95 1088.10 1099.55 1088.10 C 1095.15 1088.10 1091.58 1084.30 1091.58 1079.62 C 1091.58 1074.93 1095.15 1071.14 1099.55 1071.14 M 1113.74 1071.14 L 1113.74 1088.10 M 1113.74 1076.79 C 1114.76 1072.68 1116.82 1071.14 1119.65 1071.14 C 1122.99 1071.14 1125.04 1073.19 1125.04 1076.79 L 1125.04 1088.10 M 1125.04 1076.79 C 1126.07 1072.68 1128.13 1071.14 1130.95 1071.14 C 1134.30 1071.14 1136.35 1073.19 1136.35 1076.79 L 1136.35 1088.10 M 1142.57 1071.14 L 1142.57 1088.10 M 1142.57 1063.94 L 1142.57 1064.20 M 1148.79 1071.14 L 1148.79 1088.10 M 1148.79 1077.82 C 1150.33 1073.19 1153.42 1071.14 1157.02 1071.14 C 1160.61 1071.14 1162.67 1073.71 1162.67 1077.82 L 1162.67 1088.10 M 1183.28 1071.14 L 1183.28 1090.16 C 1183.28 1094.27 1180.20 1096.32 1176.09 1096.32 C 1173.52 1096.32 1171.46 1095.30 1169.92 1093.75 M 1183.28 1075.76 C 1181.74 1072.17 1179.17 1071.14 1176.09 1071.14 C 1171.46 1071.14 1168.89 1074.74 1168.89 1079.36 C 1168.89 1083.99 1171.97 1086.56 1176.09 1086.56 C 1179.68 1086.56 1182.25 1085.02 1183.28 1081.93 M 1206.98 1062.40 L 1228.82 1062.40 M 1218.03 1062.40 L 1218.03 1088.10 M 1243.01 1071.14 C 1247.41 1071.14 1250.98 1074.93 1250.98 1079.62 C 1250.98 1084.30 1247.41 1088.10 1243.01 1088.10 C 1238.61 1088.10 1235.04 1084.30 1235.04 1079.62 C 1235.04 1074.93 1238.61 1071.14 1243.01 1071.14 M 1274.16 1062.40 L 1283.92 1075.25 M 1292.66 1062.40 L 1280.33 1088.10 M 1306.85 1071.14 C 1311.25 1071.14 1314.82 1074.93 1314.82 1079.62 C 1314.82 1084.30 1311.25 1088.10 1306.85 1088.10 C 1302.45 1088.10 1298.88 1084.30 1298.88 1079.62 C 1298.88 1074.93 1302.45 1071.14 1306.85 1071.14 M 1321.04 1071.14 L 1321.04 1081.93 C 1321.04 1086.04 1323.61 1088.10 1327.20 1088.10 C 1330.80 1088.10 1333.89 1085.53 1334.40 1081.42 M 1334.40 1071.14 L 1334.40 1088.10" fill="none" stroke="#000" stroke-width="4.80" stroke-linecap="round" stroke-linejoin="round"/>
<path d="M 393.90 1234.90 L 393.90 1209.20 C 405.21 1209.20 409.83 1211.77 409.83 1216.40 C 409.83 1221.54 404.69 1223.59 393.90 1223.59 M 415.40 1217.94 L 415.40 1234.90 M 415.40 1225.13 C 416.94 1220.51 420.02 1217.94 424.13 1217.94 C 426.19 1217.94 427.22 1218.45 428.25 1219.48 M 441.78 1217.94 C 446.18 1217.94 449.74 1221.73 449.74 1226.42 C 449.74 1231.10 446.18 1234.90 441.78 1234.90 C 437.38 1234.90 433.81 1231.10 433.81 1226.42 C 433.81 1221.73 437.38 1217.94 441.78 1217.94 M 461.99 1210.74 L 461.99 1234.90 M 455.31 1218.45 L 469.18 1217.94 M 475.52 1227.96 L 488.88 1224.62 C 488.37 1219.99 485.54 1217.94 481.94 1217.94 C 477.32 1217.94 474.75 1221.54 474.75 1226.68 C 474.75 1232.33 477.83 1234.90 482.46 1234.90 C 485.54 1234.90 487.60 1233.87 489.14 1232.33 M 507.55 1220.51 C 506.01 1218.45 503.95 1217.94 501.90 1217.94 C 497.78 1217.94 494.70 1221.54 494.70 1226.68 C 494.70 1232.33 497.78 1234.90 501.90 1234.90 C 504.47 1234.90 506.52 1233.87 508.06 1232.33 M 520.31 1210.74 L 520.31 1234.90 M 513.63 1218.45 L 527.50 1217.94 M 550.03 1217.94 L 550.03 1234.90 M 550.03 1223.59 C 551.06 1219.48 553.11 1217.94 555.94 1217.94 C 559.28 1217.94 561.34 1219.99 561.34 1223.59 L 561.34 1234.90 M 561.34 1223.59 C 562.37 1219.48 564.42 1217.94 567.25 1217.94 C 570.59 1217.94 572.65 1219.99 572.65 1223.59 L 572.65 1234.90 M 578.98 1227.96 L 592.34 1224.62 C 591.83 1219.99 589.00 1217.94 585.40 1217.94 C 580.78 1217.94 578.21 1221.54 578.21 1226.68 C 578.21 1232.33 581.29 1234.90 585.92 1234.90 C 589.00 1234.90 591.06 1233.87 592.60 1232.33" fill="none" stroke="#000" stroke-width="4.80" stroke-linecap="round" stroke-linejoin="round"/>
<path d="M 408.93 1266.70 C 406.88 1263.87 404.31 1263.10 401.74 1263.10 C 396.60 1263.10 393.00 1268.75 393.00 1275.95 C 393.00 1283.66 396.60 1288.80 402.25 1288.80 C 405.85 1288.80 408.42 1287.26 409.96 1285.20 M 424.11 1271.84 C 428.51 1271.84 432.08 1275.63 432.08 1280.32 C 432.08 1285.00 428.51 1288.80 424.11 1288.80 C 419.71 1288.80 416.14 1285.00 416.14 1280.32 C 416.14 1275.63 419.71 1271.84 424.11 1271.84 M 438.25 1271.84 L 438.25 1288.80 M 438.25 1277.49 C 439.28 1273.38 441.34 1271.84 444.17 1271.84 C 447.51 1271.84 449.56 1273.89 449.56 1277.49 L 449.56 1288.80 M 449.56 1277.49 C 450.59 1273.38 452.65 1271.84 455.47 1271.84 C 458.81 1271.84 460.87 1273.89 460.87 1277.49 L 460.87 1288.80 M 478.87 1264.13 C 477.33 1262.59 475.27 1262.07 473.73 1262.07 C 471.16 1262.07 470.13 1264.13 470.13 1266.70 L 470.13 1288.80 M 467.05 1272.87 L 477.84 1272.35 M 493.02 1271.84 C 497.42 1271.84 500.98 1275.63 500.98 1280.32 C 500.98 1285.00 497.42 1288.80 493.02 1288.80 C 488.62 1288.80 485.05 1285.00 485.05 1280.32 C 485.05 1275.63 488.62 1271.84 493.02 1271.84 M 507.16 1271.84 L 507.16 1288.80 M 507.16 1279.03 C 508.71 1274.41 511.79 1271.84 515.90 1271.84 C 517.96 1271.84 518.99 1272.35 520.01 1273.38 M 532.88 1264.64 L 532.88 1288.80 M 526.19 1272.35 L 540.07 1271.84 M 563.21 1271.84 L 563.21 1288.80 M 563.21 1277.49 C 564.24 1273.38 566.30 1271.84 569.12 1271.84 C 572.46 1271.84 574.52 1273.89 574.52 1277.49 L 574.52 1288.80 M 574.52 1277.49 C 575.55 1273.38 577.60 1271.84 580.43 1271.84 C 583.77 1271.84 585.83 1273.89 585.83 1277.49 L 585.83 1288.80 M 592.78 1281.86 L 606.14 1278.52 C 605.63 1273.89 602.80 1271.84 599.20 1271.84 C 594.58 1271.84 592.01 1275.44 592.01 1280.58 C 592.01 1286.23 595.09 1288.80 599.72 1288.80 C 602.80 1288.80 604.86 1287.77 606.40 1286.23" fill="none" stroke="#000" stroke-width="4.80" stroke-linecap="round" stroke-linejoin="round"/>
<path d="M 394.81 1317.90 L 394.30 1343.60 M 394.81 1317.90 C 407.15 1317.90 412.29 1323.55 412.29 1330.75 C 412.29 1338.97 406.64 1343.60 394.30 1343.60 M 421.18 1336.66 L 434.54 1333.32 C 434.03 1328.69 431.20 1326.64 427.60 1326.64 C 422.97 1326.64 420.40 1330.24 420.40 1335.38 C 420.40 1341.03 423.49 1343.60 428.11 1343.60 C 431.20 1343.60 433.25 1342.57 434.80 1341.03 M 442.91 1316.87 L 442.91 1343.60 M 451.03 1326.64 L 451.03 1343.60 M 451.03 1319.44 L 451.03 1319.70 M 473.53 1326.64 L 473.53 1345.66 C 473.53 1349.77 470.45 1351.82 466.34 1351.82 C 463.77 1351.82 461.71 1350.80 460.17 1349.25 M 473.53 1331.26 C 471.99 1327.67 469.42 1326.64 466.34 1326.64 C 461.71 1326.64 459.14 1330.24 459.14 1334.86 C 459.14 1339.49 462.22 1342.06 466.34 1342.06 C 469.93 1342.06 472.50 1340.52 473.53 1337.43 M 482.16 1316.87 L 482.16 1343.60 M 482.16 1333.32 C 483.70 1328.69 486.79 1326.64 490.38 1326.64 C 493.98 1326.64 496.04 1329.21 496.04 1333.32 L 496.04 1343.60 M 510.84 1319.44 L 510.84 1343.60 M 504.15 1327.15 L 518.03 1326.64 M 543.11 1326.64 L 543.11 1343.60 M 543.11 1319.44 L 543.11 1319.70 M 551.22 1326.64 L 551.22 1343.60 M 551.22 1333.32 C 552.76 1328.69 555.85 1326.64 559.45 1326.64 C 563.04 1326.64 565.10 1329.21 565.10 1333.32 L 565.10 1343.60 M 590.18 1326.64 L 590.18 1343.60 M 590.18 1332.29 C 591.21 1328.18 593.26 1326.64 596.09 1326.64 C 599.43 1326.64 601.49 1328.69 601.49 1332.29 L 601.49 1343.60 M 601.49 1332.29 C 602.51 1328.18 604.57 1326.64 607.40 1326.64 C 610.74 1326.64 612.79 1328.69 612.79 1332.29 L 612.79 1343.60 M 621.68 1336.66 L 635.04 1333.32 C 634.53 1328.69 631.70 1326.64 628.10 1326.64 C 623.48 1326.64 620.91 1330.24 620.91 1335.38 C 620.91 1341.03 623.99 1343.60 628.62 1343.60 C 631.70 1343.60 633.76 1342.57 635.30 1341.03" fill="none" stroke="#000" stroke-width="4.80" stroke-linecap="round" stroke-linejoin="round"/>
<path d="M 404.82 1371.70 C 411.35 1371.70 416.64 1377.45 416.64 1384.55 C 416.64 1391.65 411.35 1397.40 404.82 1397.40 C 398.29 1397.40 393.00 1391.65 393.00 1384.55 C 393.00 1377.45 398.29 1371.70 404.82 1371.70 M 424.01 1380.44 L 424.01 1397.40 M 424.01 1387.63 C 425.55 1383.01 428.64 1380.44 432.75 1380.44 C 434.80 1380.44 435.83 1380.95 436.86 1381.98 M 458.62 1380.44 L 458.62 1399.46 C 458.62 1403.57 455.54 1405.62 451.42 1405.62 C 448.85 1405.62 446.80 1404.60 445.26 1403.05 M 458.62 1385.06 C 457.08 1381.47 454.51 1380.44 451.42 1380.44 C 446.80 1380.44 444.23 1384.04 444.23 1388.66 C 444.23 1393.29 447.31 1395.86 451.42 1395.86 C 455.02 1395.86 457.59 1394.32 458.62 1391.23 M 479.86 1380.44 L 480.38 1397.40 M 479.86 1385.06 C 478.32 1381.47 475.75 1380.44 473.18 1380.44 C 469.07 1380.44 466.50 1384.04 466.50 1389.18 C 466.50 1394.83 469.58 1397.40 473.18 1397.40 C 476.27 1397.40 478.84 1395.86 480.12 1392.77 M 487.74 1380.44 L 487.74 1397.40 M 487.74 1387.12 C 489.29 1382.49 492.37 1380.44 495.97 1380.44 C 499.57 1380.44 501.62 1383.01 501.62 1387.12 L 501.62 1397.40 M 508.99 1380.44 L 508.99 1397.40 M 508.99 1373.24 L 508.99 1373.50 M 516.87 1380.44 L 530.23 1380.44 L 516.36 1397.40 L 530.23 1397.40 M 538.37 1390.46 L 551.74 1387.12 C 551.22 1382.49 548.39 1380.44 544.80 1380.44 C 540.17 1380.44 537.60 1384.04 537.60 1389.18 C 537.60 1394.83 540.68 1397.40 545.31 1397.40 C 548.39 1397.40 550.45 1396.37 551.99 1394.83 M 576.32 1380.44 L 576.32 1397.40 M 576.32 1386.09 C 577.35 1381.98 579.40 1380.44 582.23 1380.44 C 585.57 1380.44 587.63 1382.49 587.63 1386.09 L 587.63 1397.40 M 587.63 1386.09 C 588.66 1381.98 590.71 1380.44 593.54 1380.44 C 596.88 1380.44 598.94 1382.49 598.94 1386.09 L 598.94 1397.40 M 606.30 1380.44 L 614.53 1395.34 M 623.27 1380.44 L 612.47 1405.62 M 659.42 1372.73 C 657.87 1371.19 655.82 1370.67 654.28 1370.67 C 651.71 1370.67 650.68 1372.73 650.68 1375.30 L 650.68 1397.40 M 647.59 1381.47 L 658.39 1380.95 M 667.55 1390.46 L 680.92 1387.12 C 680.40 1382.49 677.58 1380.44 673.98 1380.44 C 669.35 1380.44 666.78 1384.04 666.78 1389.18 C 666.78 1394.83 669.87 1397.40 674.49 1397.40 C 677.58 1397.40 679.63 1396.37 681.17 1394.83 M 689.31 1390.46 L 702.68 1387.12 C 702.16 1382.49 699.34 1380.44 695.74 1380.44 C 691.11 1380.44 688.54 1384.04 688.54 1389.18 C 688.54 1394.83 691.63 1397.40 696.25 1397.40 C 699.34 1397.40 701.39 1396.37 702.93 1394.83 M 710.30 1370.67 L 710.30 1397.40 M 717.67 1380.44 L 717.67 1397.40 M 717.67 1373.24 L 717.67 1373.50 M 725.03 1380.44 L 725.03 1397.40 M 725.03 1387.12 C 726.57 1382.49 729.66 1380.44 733.26 1380.44 C 736.85 1380.44 738.91 1383.01 738.91 1387.12 L 738.91 1397.40 M 760.67 1380.44 L 760.67 1399.46 C 760.67 1403.57 757.59 1405.62 753.47 1405.62 C 750.90 1405.62 748.85 1404.60 747.31 1403.05 M 760.67 1385.06 C 759.13 1381.47 756.56 1380.44 753.47 1380.44 C 748.85 1380.44 746.28 1384.04 746.28 1388.66 C 746.28 1393.29 749.36 1395.86 753.47 1395.86 C 757.07 1395.86 759.64 1394.32 760.67 1391.23 M 780.89 1383.01 C 779.34 1380.95 777.29 1380.44 775.23 1380.44 C 771.63 1380.44 769.32 1381.98 769.32 1384.55 C 769.32 1387.63 772.66 1388.15 775.23 1388.92 C 779.34 1389.95 781.40 1391.23 781.40 1393.29 C 781.40 1395.86 778.83 1397.40 774.72 1397.40 C 772.15 1397.40 770.09 1396.63 768.55 1395.34" fill="none" stroke="#000" stroke-width="4.80" stroke-linecap="round" stroke-linejoin="round"/>
<path d="M 920.70 1307.20 L 936.32 1281.50 L 937.35 1281.50 L 939.20 1307.20 M 926.78 1297.95 L 938.74 1297.43 M 953.97 1280.47 L 946.81 1307.20 M 958.96 1290.24 L 959.04 1307.20 L 968.39 1294.35 L 970.86 1307.20 L 980.03 1290.24 M 1001.00 1290.24 L 996.97 1307.20 M 999.76 1294.86 C 999.19 1291.27 996.89 1290.24 994.32 1290.24 C 990.21 1290.24 986.67 1293.84 985.30 1298.98 C 983.78 1304.63 986.18 1307.20 989.78 1307.20 C 992.86 1307.20 995.84 1305.66 997.95 1302.57 M 1009.12 1290.24 L 1013.35 1305.14 M 1026.08 1290.24 L 1008.54 1315.42 M 1045.34 1292.81 C 1044.35 1290.75 1042.43 1290.24 1040.37 1290.24 C 1036.77 1290.24 1034.05 1291.78 1033.36 1294.35 C 1032.53 1297.43 1035.74 1297.95 1038.10 1298.72 C 1041.94 1299.75 1043.65 1301.03 1043.10 1303.09 C 1042.41 1305.66 1039.42 1307.20 1035.31 1307.20 C 1032.74 1307.20 1030.89 1306.43 1029.70 1305.14 M 1053.59 1292.29 L 1053.53 1292.55 M 1049.67 1306.94 L 1049.60 1307.20" fill="none" stroke="#000" stroke-width="4.80" stroke-linecap="round" stroke-linejoin="round"/>
<path d="M 1081.00 1280.47 L 1081.00 1307.20 M 1081.00 1296.92 C 1082.03 1292.29 1085.11 1290.24 1088.71 1290.24 C 1093.34 1290.24 1095.91 1293.84 1095.91 1298.98 C 1095.91 1304.63 1092.82 1307.20 1088.71 1307.20 C 1085.11 1307.20 1082.54 1305.66 1081.00 1303.60 M 1104.87 1300.26 L 1118.23 1296.92 C 1117.72 1292.29 1114.89 1290.24 1111.29 1290.24 C 1106.67 1290.24 1104.10 1293.84 1104.10 1298.98 C 1104.10 1304.63 1107.18 1307.20 1111.81 1307.20 C 1114.89 1307.20 1116.95 1306.17 1118.49 1304.63 M 1144.16 1281.50 L 1143.65 1307.20 M 1144.16 1281.50 C 1153.93 1280.99 1157.52 1284.07 1157.52 1287.67 C 1157.52 1291.78 1153.93 1293.32 1144.67 1293.32 M 1144.67 1293.32 C 1155.98 1292.81 1159.58 1295.89 1159.58 1300.26 C 1159.58 1305.14 1154.95 1307.20 1143.65 1307.20 M 1167.77 1281.50 L 1182.42 1281.50 M 1174.97 1281.50 L 1174.97 1307.20 M 1167.77 1307.20 L 1182.42 1307.20 M 1207.06 1285.10 C 1205.01 1282.27 1202.44 1281.50 1199.87 1281.50 C 1194.21 1281.50 1190.61 1287.15 1190.61 1294.35 C 1190.61 1302.06 1194.21 1307.20 1200.38 1307.20 C 1206.03 1307.20 1209.12 1303.60 1209.12 1296.41 L 1201.41 1296.41 M 1233.76 1285.10 C 1231.70 1282.27 1229.13 1281.50 1226.56 1281.50 C 1220.91 1281.50 1217.31 1287.15 1217.31 1294.35 C 1217.31 1302.06 1220.91 1307.20 1227.08 1307.20 C 1232.73 1307.20 1235.82 1303.60 1235.82 1296.41 L 1228.11 1296.41 M 1258.91 1281.50 L 1245.04 1281.50 L 1244.52 1307.20 L 1259.94 1307.20 M 1244.78 1293.84 L 1256.86 1293.84 M 1268.14 1307.20 L 1268.14 1281.50 C 1279.96 1281.50 1285.10 1284.07 1285.10 1288.70 C 1285.10 1293.84 1279.96 1295.38 1269.16 1295.38 M 1274.82 1295.38 L 1286.13 1307.20 M 1296.37 1305.66 L 1294.32 1311.31 M 1339.52 1284.58 C 1337.46 1282.01 1334.38 1281.50 1331.30 1281.50 C 1325.64 1281.50 1322.56 1284.07 1322.56 1287.92 C 1322.56 1292.29 1328.21 1293.32 1331.81 1294.35 C 1336.95 1295.63 1341.06 1297.43 1341.06 1301.03 C 1341.06 1305.14 1336.44 1307.20 1330.78 1307.20 C 1326.16 1307.20 1323.07 1306.17 1321.53 1304.12 M 1349.25 1281.50 L 1371.10 1281.50 M 1360.31 1281.50 L 1360.31 1307.20 M 1379.29 1307.20 L 1379.29 1281.50 C 1391.11 1281.50 1396.25 1284.07 1396.25 1288.70 C 1396.25 1293.84 1391.11 1295.38 1380.32 1295.38 M 1385.97 1295.38 L 1397.28 1307.20 M 1417.30 1281.50 C 1423.83 1281.50 1429.12 1287.25 1429.12 1294.35 C 1429.12 1301.45 1423.83 1307.20 1417.30 1307.20 C 1410.77 1307.20 1405.47 1301.45 1405.47 1294.35 C 1405.47 1287.25 1410.77 1281.50 1417.30 1281.50 M 1437.31 1307.20 L 1437.31 1281.50 L 1455.30 1307.20 L 1455.30 1281.50 M 1479.94 1285.10 C 1477.89 1282.27 1475.32 1281.50 1472.75 1281.50 C 1467.09 1281.50 1463.49 1287.15 1463.49 1294.35 C 1463.49 1302.06 1467.09 1307.20 1473.26 1307.20 C 1478.91 1307.20 1482.00 1303.60 1482.00 1296.41 L 1474.29 1296.41 M 1505.10 1281.50 L 1491.22 1281.50 L 1490.71 1307.20 L 1506.13 1307.20 M 1490.96 1293.84 L 1503.04 1293.84 M 1514.32 1307.20 L 1514.32 1281.50 C 1526.14 1281.50 1531.28 1284.07 1531.28 1288.70 C 1531.28 1293.84 1526.14 1295.38 1515.35 1295.38 M 1521.00 1295.38 L 1532.31 1307.20 M 1542.56 1305.66 L 1540.50 1311.31 M 1567.71 1281.50 L 1573.37 1307.20 L 1581.33 1288.70 L 1589.30 1307.20 L 1594.95 1281.50 M 1603.15 1281.50 L 1617.80 1281.50 M 1610.34 1281.50 L 1610.34 1307.20 M 1603.15 1307.20 L 1617.80 1307.20 M 1643.98 1284.58 C 1641.92 1282.01 1638.84 1281.50 1635.76 1281.50 C 1630.10 1281.50 1627.02 1284.07 1627.02 1287.92 C 1627.02 1292.29 1632.67 1293.32 1636.27 1294.35 C 1641.41 1295.63 1645.52 1297.43 1645.52 1301.03 C 1645.52 1305.14 1640.90 1307.20 1635.24 1307.20 C 1630.62 1307.20 1627.53 1306.17 1625.99 1304.12 M 1668.62 1281.50 L 1654.74 1281.50 L 1654.23 1307.20 L 1669.65 1307.20 M 1654.48 1293.84 L 1666.56 1293.84 M 1677.84 1307.20 L 1677.84 1281.50 C 1689.66 1281.50 1694.80 1284.07 1694.80 1288.70 C 1694.80 1293.84 1689.66 1295.38 1678.87 1295.38 M 1684.52 1295.38 L 1695.83 1307.20 M 1706.08 1305.66 L 1704.02 1311.31 M 1744.60 1290.24 L 1745.11 1307.20 M 1744.60 1294.86 C 1743.06 1291.27 1740.49 1290.24 1737.92 1290.24 C 1733.80 1290.24 1731.23 1293.84 1731.23 1298.98 C 1731.23 1304.63 1734.32 1307.20 1737.92 1307.20 C 1741.00 1307.20 1743.57 1305.66 1744.86 1302.57 M 1753.31 1290.24 L 1753.31 1307.20 M 1753.31 1296.92 C 1754.85 1292.29 1757.93 1290.24 1761.53 1290.24 C 1765.13 1290.24 1767.18 1292.81 1767.18 1296.92 L 1767.18 1307.20 M 1790.28 1280.47 L 1790.28 1307.20 M 1790.28 1295.89 C 1788.74 1291.78 1785.66 1290.24 1782.57 1290.24 C 1777.95 1290.24 1775.38 1293.84 1775.38 1298.98 C 1775.38 1304.63 1778.46 1307.20 1782.57 1307.20 C 1786.17 1307.20 1788.74 1305.66 1790.28 1302.57 M 1815.44 1281.50 L 1815.44 1307.20 M 1831.37 1281.50 L 1815.95 1295.89 M 1820.58 1291.78 L 1832.40 1307.20 M 1840.59 1281.50 L 1855.24 1281.50 M 1847.79 1281.50 L 1847.79 1307.20 M 1840.59 1307.20 L 1855.24 1307.20 M 1863.43 1307.20 L 1863.43 1281.50 L 1881.42 1307.20 L 1881.42 1281.50 M 1890.13 1281.50 L 1889.62 1307.20 M 1890.13 1281.50 C 1902.47 1281.50 1907.61 1287.15 1907.61 1294.35 C 1907.61 1302.57 1901.95 1307.20 1889.62 1307.20 M 1915.80 1306.94 L 1915.80 1307.20" fill="none" stroke="#000" stroke-width="4.80" stroke-linecap="round" stroke-linejoin="round"/>
<path d="M 1035.19 1335.30 L 1033.95 1361.00 L 1046.88 1342.50 L 1049.89 1361.00 L 1062.43 1335.30 M 1069.96 1334.27 L 1062.80 1361.00 M 1065.55 1350.72 C 1068.33 1346.09 1071.97 1344.04 1075.57 1344.04 C 1079.16 1344.04 1080.53 1346.61 1079.43 1350.72 L 1076.68 1361.00 M 1086.56 1354.06 L 1100.82 1350.72 C 1101.55 1346.09 1099.27 1344.04 1095.67 1344.04 C 1091.05 1344.04 1087.51 1347.64 1086.13 1352.78 C 1084.62 1358.43 1087.01 1361.00 1091.64 1361.00 C 1094.72 1361.00 1097.06 1359.97 1099.01 1358.43 M 1110.12 1344.04 L 1105.58 1361.00 M 1108.33 1350.72 C 1111.11 1346.09 1114.75 1344.04 1118.35 1344.04 C 1121.94 1344.04 1123.31 1346.61 1122.21 1350.72 L 1119.46 1361.00 M 1129.34 1354.06 L 1143.60 1350.72 C 1144.33 1346.09 1142.05 1344.04 1138.45 1344.04 C 1133.83 1344.04 1130.29 1347.64 1128.91 1352.78 C 1127.40 1358.43 1129.80 1361.00 1134.42 1361.00 C 1137.51 1361.00 1139.84 1359.97 1141.79 1358.43 M 1152.90 1344.04 L 1155.55 1361.00 L 1167.30 1344.04 M 1172.64 1354.06 L 1186.90 1350.72 C 1187.62 1346.09 1185.34 1344.04 1181.75 1344.04 C 1177.12 1344.04 1173.59 1347.64 1172.21 1352.78 C 1170.69 1358.43 1173.09 1361.00 1177.72 1361.00 C 1180.80 1361.00 1183.13 1359.97 1185.09 1358.43 M 1196.20 1344.04 L 1191.65 1361.00 M 1194.27 1351.23 C 1197.05 1346.61 1200.82 1344.04 1204.94 1344.04 C 1206.99 1344.04 1207.88 1344.55 1208.63 1345.58 M 1233.26 1344.04 L 1226.52 1369.22 M 1231.75 1349.69 C 1234.39 1345.58 1237.89 1344.04 1240.97 1344.04 C 1245.60 1344.04 1247.21 1347.64 1245.83 1352.78 C 1244.31 1358.43 1240.54 1361.00 1236.43 1361.00 C 1232.83 1361.00 1230.68 1359.46 1229.68 1357.40 M 1263.39 1344.04 C 1267.79 1344.04 1270.34 1347.83 1269.09 1352.52 C 1267.83 1357.20 1263.25 1361.00 1258.85 1361.00 C 1254.45 1361.00 1251.90 1357.20 1253.15 1352.52 C 1254.41 1347.83 1258.99 1344.04 1263.39 1344.04 M 1290.26 1346.61 C 1289.27 1344.55 1287.35 1344.04 1285.30 1344.04 C 1281.70 1344.04 1278.97 1345.58 1278.28 1348.15 C 1277.46 1351.23 1280.66 1351.75 1283.02 1352.52 C 1286.86 1353.55 1288.57 1354.83 1288.02 1356.89 C 1287.33 1359.46 1284.35 1361.00 1280.24 1361.00 C 1277.67 1361.00 1275.82 1360.23 1274.62 1358.94 M 1310.37 1346.61 C 1309.38 1344.55 1307.46 1344.04 1305.40 1344.04 C 1301.80 1344.04 1299.08 1345.58 1298.39 1348.15 C 1297.56 1351.23 1300.77 1351.75 1303.13 1352.52 C 1306.97 1353.55 1308.68 1354.83 1308.13 1356.89 C 1307.44 1359.46 1304.46 1361.00 1300.34 1361.00 C 1297.77 1361.00 1295.92 1360.23 1294.73 1358.94 M 1318.83 1344.04 L 1314.28 1361.00 M 1320.75 1336.84 L 1320.69 1337.10 M 1328.70 1334.27 L 1321.54 1361.00 M 1324.29 1350.72 C 1326.56 1346.09 1330.19 1344.04 1333.79 1344.04 C 1338.42 1344.04 1340.02 1347.64 1338.65 1352.78 C 1337.13 1358.43 1333.36 1361.00 1329.25 1361.00 C 1325.65 1361.00 1323.49 1359.46 1322.50 1357.40 M 1350.86 1334.27 L 1343.70 1361.00 M 1353.58 1354.06 L 1367.84 1350.72 C 1368.57 1346.09 1366.29 1344.04 1362.69 1344.04 C 1358.07 1344.04 1354.53 1347.64 1353.16 1352.78 C 1351.64 1358.43 1354.04 1361.00 1358.66 1361.00 C 1361.75 1361.00 1364.08 1359.97 1366.03 1358.43 M 1376.59 1346.09 L 1376.53 1346.35 M 1372.67 1360.74 L 1372.60 1361.00" fill="none" stroke="#000" stroke-width="4.80" stroke-linecap="round" stroke-linejoin="round"/>
<path d="M 1414.72 1336.33 C 1413.18 1334.79 1411.12 1334.27 1409.58 1334.27 C 1407.01 1334.27 1405.98 1336.33 1405.98 1338.90 L 1405.98 1361.00 M 1402.90 1345.07 L 1413.69 1344.55 M 1430.24 1344.04 C 1434.64 1344.04 1438.21 1347.83 1438.21 1352.52 C 1438.21 1357.20 1434.64 1361.00 1430.24 1361.00 C 1425.84 1361.00 1422.28 1357.20 1422.28 1352.52 C 1422.28 1347.83 1425.84 1344.04 1430.24 1344.04 M 1445.77 1334.27 L 1445.77 1361.00 M 1453.32 1334.27 L 1453.32 1361.00 M 1468.84 1344.04 C 1473.24 1344.04 1476.81 1347.83 1476.81 1352.52 C 1476.81 1357.20 1473.24 1361.00 1468.84 1361.00 C 1464.44 1361.00 1460.88 1357.20 1460.88 1352.52 C 1460.88 1347.83 1464.44 1344.04 1468.84 1344.04 M 1484.37 1344.04 L 1488.99 1361.00 L 1494.90 1348.15 L 1500.81 1361.00 L 1505.44 1344.04 M 1529.96 1344.04 L 1529.96 1361.00 M 1529.96 1349.69 C 1530.99 1345.58 1533.04 1344.04 1535.87 1344.04 C 1539.21 1344.04 1541.27 1346.09 1541.27 1349.69 L 1541.27 1361.00 M 1541.27 1349.69 C 1542.29 1345.58 1544.35 1344.04 1547.18 1344.04 C 1550.52 1344.04 1552.57 1346.09 1552.57 1349.69 L 1552.57 1361.00 M 1560.13 1344.04 L 1568.35 1358.94 M 1577.09 1344.04 L 1566.30 1369.22 M 1614.46 1346.61 C 1612.92 1344.55 1610.86 1344.04 1608.80 1344.04 C 1604.69 1344.04 1601.61 1347.64 1601.61 1352.78 C 1601.61 1358.43 1604.69 1361.00 1608.80 1361.00 C 1611.37 1361.00 1613.43 1359.97 1614.97 1358.43 M 1622.53 1334.27 L 1622.53 1361.00 M 1622.53 1350.72 C 1624.07 1346.09 1627.15 1344.04 1630.75 1344.04 C 1634.35 1344.04 1636.41 1346.61 1636.41 1350.72 L 1636.41 1361.00 M 1643.96 1344.04 L 1643.96 1361.00 M 1643.96 1336.84 L 1643.96 1337.10 M 1651.52 1334.27 L 1651.52 1361.00 M 1673.98 1334.27 L 1673.98 1361.00 M 1673.98 1349.69 C 1672.44 1345.58 1669.35 1344.04 1666.27 1344.04 C 1661.64 1344.04 1659.07 1347.64 1659.07 1352.78 C 1659.07 1358.43 1662.16 1361.00 1666.27 1361.00 C 1669.87 1361.00 1672.44 1359.46 1673.98 1356.37 M 1683.59 1335.30 L 1681.53 1340.95 M 1703.48 1346.61 C 1701.94 1344.55 1699.88 1344.04 1697.83 1344.04 C 1694.23 1344.04 1691.91 1345.58 1691.91 1348.15 C 1691.91 1351.23 1695.26 1351.75 1697.83 1352.52 C 1701.94 1353.55 1703.99 1354.83 1703.99 1356.89 C 1703.99 1359.46 1701.42 1361.00 1697.31 1361.00 C 1694.74 1361.00 1692.69 1360.23 1691.14 1358.94 M 1728.51 1344.04 L 1728.51 1361.00 M 1728.51 1350.72 C 1730.05 1346.09 1733.14 1344.04 1736.73 1344.04 C 1740.33 1344.04 1742.39 1346.61 1742.39 1350.72 L 1742.39 1361.00 M 1750.72 1354.06 L 1764.08 1350.72 C 1763.57 1346.09 1760.74 1344.04 1757.14 1344.04 C 1752.51 1344.04 1749.94 1347.64 1749.94 1352.78 C 1749.94 1358.43 1753.03 1361.00 1757.65 1361.00 C 1760.74 1361.00 1762.79 1359.97 1764.34 1358.43 M 1772.66 1354.06 L 1786.03 1350.72 C 1785.51 1346.09 1782.69 1344.04 1779.09 1344.04 C 1774.46 1344.04 1771.89 1347.64 1771.89 1352.78 C 1771.89 1358.43 1774.98 1361.00 1779.60 1361.00 C 1782.69 1361.00 1784.74 1359.97 1786.28 1358.43 M 1808.74 1334.27 L 1808.74 1361.00 M 1808.74 1349.69 C 1807.20 1345.58 1804.12 1344.04 1801.03 1344.04 C 1796.41 1344.04 1793.84 1347.64 1793.84 1352.78 C 1793.84 1358.43 1796.92 1361.00 1801.03 1361.00 C 1804.63 1361.00 1807.20 1359.46 1808.74 1356.37 M 1816.30 1360.74 L 1816.30 1361.00" fill="none" stroke="#000" stroke-width="4.80" stroke-linecap="round" stroke-linejoin="round"/>
<path d="M 1109.59 1389.10 L 1108.35 1414.80 L 1121.28 1396.30 L 1124.29 1414.80 L 1136.83 1389.10 M 1143.82 1388.07 L 1136.65 1414.80 M 1139.41 1404.52 C 1142.19 1399.89 1145.83 1397.84 1149.42 1397.84 C 1153.02 1397.84 1154.39 1400.41 1153.29 1404.52 L 1150.53 1414.80 M 1159.87 1407.86 L 1174.13 1404.52 C 1174.86 1399.89 1172.58 1397.84 1168.99 1397.84 C 1164.36 1397.84 1160.83 1401.44 1159.45 1406.58 C 1157.93 1412.23 1160.33 1414.80 1164.95 1414.80 C 1168.04 1414.80 1170.37 1413.77 1172.32 1412.23 M 1182.89 1397.84 L 1178.35 1414.80 M 1181.10 1404.52 C 1183.88 1399.89 1187.52 1397.84 1191.12 1397.84 C 1194.72 1397.84 1196.08 1400.41 1194.98 1404.52 L 1192.23 1414.80 M 1201.57 1407.86 L 1215.83 1404.52 C 1216.55 1399.89 1214.28 1397.84 1210.68 1397.84 C 1206.05 1397.84 1202.52 1401.44 1201.14 1406.58 C 1199.63 1412.23 1202.02 1414.80 1206.65 1414.80 C 1209.73 1414.80 1212.06 1413.77 1214.02 1412.23 M 1224.59 1397.84 L 1227.24 1414.80 L 1238.98 1397.84 M 1243.78 1407.86 L 1258.04 1404.52 C 1258.76 1399.89 1256.49 1397.84 1252.89 1397.84 C 1248.26 1397.84 1244.73 1401.44 1243.35 1406.58 C 1241.84 1412.23 1244.23 1414.80 1248.86 1414.80 C 1251.94 1414.80 1254.27 1413.77 1256.23 1412.23 M 1266.80 1397.84 L 1262.25 1414.80 M 1264.87 1405.03 C 1267.65 1400.41 1271.42 1397.84 1275.53 1397.84 C 1277.59 1397.84 1278.48 1398.35 1279.23 1399.38 M 1303.32 1397.84 L 1298.77 1414.80 M 1301.53 1404.52 C 1304.31 1399.89 1307.95 1397.84 1311.54 1397.84 C 1315.14 1397.84 1316.51 1400.41 1315.41 1404.52 L 1312.65 1414.80 M 1322.00 1407.86 L 1336.25 1404.52 C 1336.98 1399.89 1334.70 1397.84 1331.11 1397.84 C 1326.48 1397.84 1322.95 1401.44 1321.57 1406.58 C 1320.05 1412.23 1322.45 1414.80 1327.08 1414.80 C 1330.16 1414.80 1332.49 1413.77 1334.45 1412.23 M 1357.18 1400.41 C 1356.18 1398.35 1354.27 1397.84 1352.21 1397.84 C 1348.10 1397.84 1344.05 1401.44 1342.67 1406.58 C 1341.16 1412.23 1343.55 1414.80 1347.67 1414.80 C 1350.24 1414.80 1352.57 1413.77 1354.52 1412.23 M 1363.18 1407.86 L 1377.43 1404.52 C 1378.16 1399.89 1375.88 1397.84 1372.29 1397.84 C 1367.66 1397.84 1364.13 1401.44 1362.75 1406.58 C 1361.23 1412.23 1363.63 1414.80 1368.26 1414.80 C 1371.34 1414.80 1373.67 1413.77 1375.63 1412.23 M 1397.84 1400.41 C 1396.85 1398.35 1394.93 1397.84 1392.88 1397.84 C 1389.28 1397.84 1386.55 1399.38 1385.86 1401.95 C 1385.04 1405.03 1388.24 1405.55 1390.60 1406.32 C 1394.44 1407.35 1396.15 1408.63 1395.60 1410.69 C 1394.91 1413.26 1391.93 1414.80 1387.82 1414.80 C 1385.25 1414.80 1383.40 1414.03 1382.20 1412.74 M 1417.40 1400.41 C 1416.41 1398.35 1414.49 1397.84 1412.44 1397.84 C 1408.84 1397.84 1406.11 1399.38 1405.43 1401.95 C 1404.60 1405.03 1407.80 1405.55 1410.17 1406.32 C 1414.00 1407.35 1415.71 1408.63 1415.16 1410.69 C 1414.47 1413.26 1411.49 1414.80 1407.38 1414.80 C 1404.81 1414.80 1402.96 1414.03 1401.76 1412.74 M 1438.68 1397.84 L 1434.65 1414.80 M 1437.44 1402.46 C 1436.87 1398.87 1434.57 1397.84 1432.00 1397.84 C 1427.89 1397.84 1424.35 1401.44 1422.98 1406.58 C 1421.46 1412.23 1423.86 1414.80 1427.46 1414.80 C 1430.54 1414.80 1433.52 1413.26 1435.63 1410.17 M 1445.91 1397.84 L 1441.36 1414.80 M 1443.98 1405.03 C 1446.76 1400.41 1450.53 1397.84 1454.65 1397.84 C 1456.70 1397.84 1457.59 1398.35 1458.35 1399.38 M 1465.47 1397.84 L 1469.70 1412.74 M 1482.43 1397.84 L 1464.89 1423.02 M 1488.59 1399.89 L 1488.53 1400.15 M 1484.67 1414.54 L 1484.60 1414.80" fill="none" stroke="#000" stroke-width="4.80" stroke-linecap="round" stroke-linejoin="round"/>
<path d="M 1521.08 1390.64 L 1521.08 1414.80 M 1514.40 1398.35 L 1528.28 1397.84 M 1548.95 1397.84 L 1549.46 1414.80 M 1548.95 1402.46 C 1547.41 1398.87 1544.84 1397.84 1542.27 1397.84 C 1538.15 1397.84 1535.58 1401.44 1535.58 1406.58 C 1535.58 1412.23 1538.67 1414.80 1542.27 1414.80 C 1545.35 1414.80 1547.92 1413.26 1549.20 1410.17 M 1556.77 1388.07 L 1556.77 1414.80 M 1569.10 1397.84 L 1557.28 1408.12 M 1560.88 1405.03 L 1570.13 1414.80 M 1578.21 1407.86 L 1591.57 1404.52 C 1591.06 1399.89 1588.23 1397.84 1584.63 1397.84 C 1580.01 1397.84 1577.44 1401.44 1577.44 1406.58 C 1577.44 1412.23 1580.52 1414.80 1585.15 1414.80 C 1588.23 1414.80 1590.29 1413.77 1591.83 1412.23 M 1628.95 1400.41 C 1627.41 1398.35 1625.35 1397.84 1623.29 1397.84 C 1619.18 1397.84 1616.10 1401.44 1616.10 1406.58 C 1616.10 1412.23 1619.18 1414.80 1623.29 1414.80 C 1625.86 1414.80 1627.92 1413.77 1629.46 1412.23 M 1636.77 1388.07 L 1636.77 1414.80 M 1636.77 1404.52 C 1638.31 1399.89 1641.39 1397.84 1644.99 1397.84 C 1648.59 1397.84 1650.64 1400.41 1650.64 1404.52 L 1650.64 1414.80 M 1671.31 1397.84 L 1671.83 1414.80 M 1671.31 1402.46 C 1669.77 1398.87 1667.20 1397.84 1664.63 1397.84 C 1660.52 1397.84 1657.95 1401.44 1657.95 1406.58 C 1657.95 1412.23 1661.03 1414.80 1664.63 1414.80 C 1667.72 1414.80 1670.29 1413.26 1671.57 1410.17 M 1679.13 1397.84 L 1679.13 1414.80 M 1679.13 1405.03 C 1680.68 1400.41 1683.76 1397.84 1687.87 1397.84 C 1689.93 1397.84 1690.96 1398.35 1691.98 1399.38 M 1713.68 1397.84 L 1713.68 1416.86 C 1713.68 1420.97 1710.60 1423.02 1706.49 1423.02 C 1703.92 1423.02 1701.86 1422.00 1700.32 1420.45 M 1713.68 1402.46 C 1712.14 1398.87 1709.57 1397.84 1706.49 1397.84 C 1701.86 1397.84 1699.29 1401.44 1699.29 1406.06 C 1699.29 1410.69 1702.37 1413.26 1706.49 1413.26 C 1710.08 1413.26 1712.65 1411.72 1713.68 1408.63 M 1722.27 1407.86 L 1735.64 1404.52 C 1735.12 1399.89 1732.30 1397.84 1728.70 1397.84 C 1724.07 1397.84 1721.50 1401.44 1721.50 1406.58 C 1721.50 1412.23 1724.59 1414.80 1729.21 1414.80 C 1732.30 1414.80 1734.35 1413.77 1735.89 1412.23 M 1743.20 1414.54 L 1743.20 1414.80" fill="none" stroke="#000" stroke-width="4.80" stroke-linecap="round" stroke-linejoin="round"/>
<rect x="914.2" y="1313.6" width="145.6" height="3.6" fill="#000"/>
<rect x="1014.0" y="1368.1" width="366.8" height="3.6" fill="#000"/>
<rect x="1088.9" y="1421.2" width="404.5" height="3.6" fill="#000"/>
<path d="M 427.10 676.38 C 424.38 672.85 419.34 673.27 414.16 674.56 C 404.66 676.93 398.75 682.61 397.66 689.20 C 396.42 696.66 405.62 696.05 411.38 696.29 C 419.65 696.33 426.04 697.68 425.02 703.83 C 423.85 710.85 415.50 716.30 406.00 718.67 C 398.23 720.61 393.34 720.15 391.33 717.28 M 473.32 659.80 L 450.01 665.62 L 441.84 709.73 L 467.75 703.27 M 446.07 686.80 L 466.37 681.73 M 518.51 654.42 C 515.86 650.45 511.76 650.21 507.44 651.29 C 498.81 653.44 491.16 664.61 489.11 676.90 C 486.92 690.07 491.51 697.34 501.00 694.97 C 507.05 693.46 511.81 689.75 514.98 685.59 M 538.97 643.42 L 534.44 670.64 C 532.55 682.05 538.58 685.60 548.51 683.12 C 558.44 680.64 566.22 673.65 568.12 662.24 L 572.65 635.02 M 583.06 674.50 L 590.36 630.60 C 610.22 625.65 618.13 627.88 616.81 635.78 C 615.35 644.56 606.28 649.35 588.14 653.88 M 597.64 651.51 L 613.28 666.96 M 663.34 612.40 L 640.02 618.21 L 631.86 662.32 L 657.76 655.86 M 636.08 639.39 L 656.38 634.33" fill="none" stroke="#000" stroke-width="10.50" stroke-linecap="round" stroke-linejoin="round"/>
<path d="M 393.58 768.61 L 383.60 813.43 M 393.58 768.61 C 410.40 763.03 415.44 766.66 414.17 772.90 C 412.71 780.03 406.04 784.43 390.27 788.87 M 390.27 788.87 C 409.72 782.55 414.76 786.18 413.22 793.76 C 411.49 802.23 402.87 808.01 383.60 813.43 M 429.61 800.49 L 453.60 751.72 L 455.35 751.22 L 461.14 791.61 M 439.01 782.71 L 459.34 776.15 M 518.66 738.45 C 516.06 734.98 510.99 735.57 505.73 737.04 C 496.10 739.76 489.93 745.69 488.57 752.38 C 487.02 759.96 496.29 759.03 502.06 759.09 C 510.36 758.85 516.73 760.00 515.46 766.24 C 514.00 773.38 505.39 779.16 495.76 781.87 C 487.87 784.09 482.98 783.79 481.08 780.96 M 566.63 719.91 L 542.97 726.56 L 533.00 771.39 L 559.28 764.00 M 538.17 748.09 L 558.76 742.29" fill="none" stroke="#000" stroke-width="10.50" stroke-linecap="round" stroke-linejoin="round"/>
<path d="M 455.10 1018.72 C 455.10 1014.78 450.44 1012.71 445.06 1011.22 C 435.20 1008.50 426.23 1009.97 420.84 1014.40 C 414.74 1019.42 423.16 1023.33 428.00 1026.24 C 435.17 1030.19 439.83 1034.24 434.80 1038.37 C 429.06 1043.10 418.11 1043.24 408.25 1040.51 C 400.18 1038.29 396.24 1035.62 396.42 1032.52 M 441.59 1049.71 L 492.74 1024.38 L 494.54 1024.87 L 473.86 1058.62 M 460.79 1040.81 L 482.13 1045.91 M 552.08 1040.75 L 526.98 1033.83 L 490.17 1063.12 M 509.29 1047.88 L 531.08 1053.10 M 593.48 1052.18 L 569.28 1045.50 L 532.47 1074.79 L 559.37 1082.21 M 551.59 1059.55 L 572.66 1065.37" fill="none" stroke="#000" stroke-width="10.50" stroke-linecap="round" stroke-linejoin="round"/>
<path d="M 381.79 1079.17 L 343.16 1110.12 M 415.18 1088.41 L 376.55 1119.37 M 362.47 1094.64 L 395.86 1103.89 M 389.61 1122.99 L 444.46 1096.53 L 446.37 1097.05 L 423.96 1132.50 M 410.20 1113.69 L 432.92 1119.15 M 475.66 1105.17 L 454.20 1140.87 L 510.00 1114.68 M 550.74 1125.96 L 524.98 1118.83 L 485.39 1149.51 L 514.02 1157.44 M 505.96 1133.55 L 528.38 1139.76 M 527.08 1161.06 L 565.71 1130.11 L 560.47 1170.31 L 599.10 1139.36" fill="none" stroke="#000" stroke-width="10.50" stroke-linecap="round" stroke-linejoin="round"/>
<!-- copyright -->
<text x="1680.4" y="1477" font-size="22" style="font-family:'Liberation Serif',serif" textLength="399" lengthAdjust="spacingAndGlyphs">© 1998 Cooper, Hoffman, Marvin, &amp; Powell</text>
<text x="1708" y="1502" font-size="22" style="font-family:'Liberation Serif',serif" textLength="171" lengthAdjust="spacingAndGlyphs">circleofsecurity.org</text>
</svg>
</body></html>
